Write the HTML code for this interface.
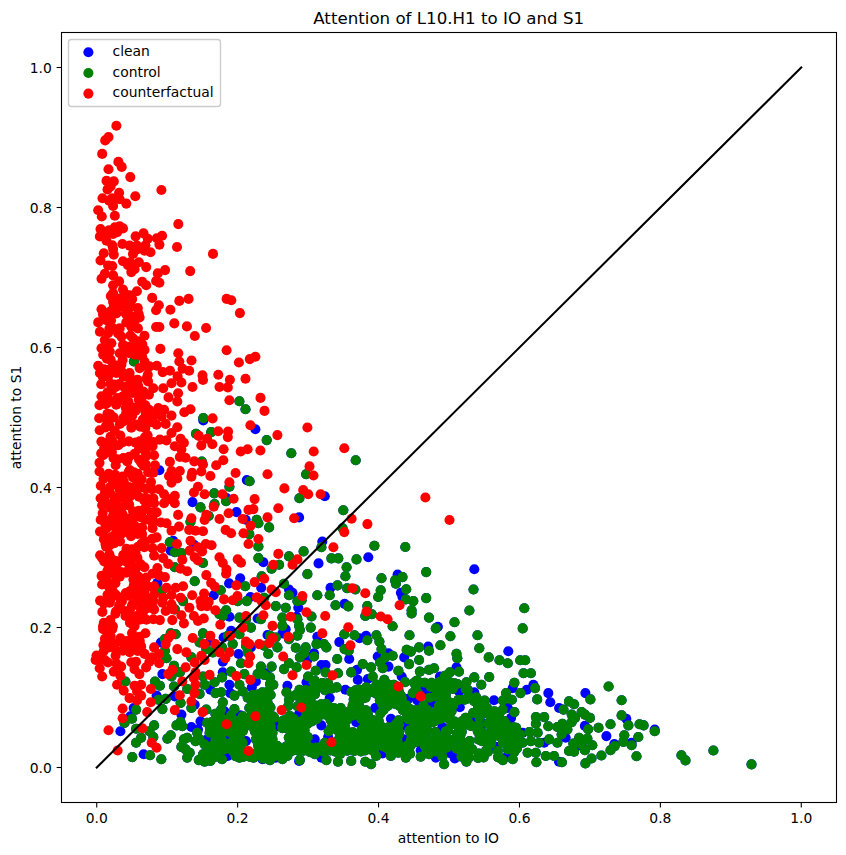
<!DOCTYPE html>
<html lang="en"><head><meta charset="utf-8"><title>Attention of L10.H1 to IO and S1</title>
<style>html,body{margin:0;padding:0;background:#fff}svg{display:block}text{font-family:"DejaVu Sans", "Liberation Sans", sans-serif;fill:#000}</style></head>
<body>
<svg width="846" height="855" viewBox="0 0 846 855">
<rect width="846" height="855" fill="#fff"/>
<clipPath id="ax"><rect x="61.5" y="32.5" width="775" height="770"/></clipPath>
<g clip-path="url(#ax)">
<g fill="#0000ff"><circle cx="133.9" cy="361.5" r="5.05"/><circle cx="239.4" cy="401.2" r="5.05"/><circle cx="245.5" cy="409.3" r="5.05"/><circle cx="203.3" cy="418.1" r="5.05"/><circle cx="196.0" cy="433.8" r="5.05"/><circle cx="211.2" cy="432.1" r="5.05"/><circle cx="266.7" cy="440.1" r="5.05"/><circle cx="249.6" cy="481.3" r="5.05"/><circle cx="229.4" cy="486.7" r="5.05"/><circle cx="214.2" cy="493.4" r="5.05"/><circle cx="226.1" cy="501.3" r="5.05"/><circle cx="214.5" cy="504.1" r="5.05"/><circle cx="200.5" cy="507.4" r="5.05"/><circle cx="208.7" cy="516.0" r="5.05"/><circle cx="256.7" cy="519.8" r="5.05"/><circle cx="201.8" cy="461.6" r="5.05"/><circle cx="291.3" cy="453.3" r="5.05"/><circle cx="355.7" cy="460.3" r="5.05"/><circle cx="306.1" cy="474.3" r="5.05"/><circle cx="299.4" cy="498.3" r="5.05"/><circle cx="343.3" cy="510.2" r="5.05"/><circle cx="190.5" cy="521.7" r="5.05"/><circle cx="258.4" cy="523.3" r="5.05"/><circle cx="269.1" cy="527.4" r="5.05"/><circle cx="249.3" cy="534.1" r="5.05"/><circle cx="169.9" cy="542.3" r="5.05"/><circle cx="258.4" cy="546.5" r="5.05"/><circle cx="174.8" cy="552.3" r="5.05"/><circle cx="181.4" cy="553.1" r="5.05"/><circle cx="203.0" cy="563.0" r="5.05"/><circle cx="258.4" cy="558.1" r="5.05"/><circle cx="289.0" cy="556.4" r="5.05"/><circle cx="279.1" cy="564.7" r="5.05"/><circle cx="271.6" cy="568.8" r="5.05"/><circle cx="174.8" cy="567.2" r="5.05"/><circle cx="194.7" cy="581.2" r="5.05"/><circle cx="261.7" cy="576.3" r="5.05"/><circle cx="284.0" cy="583.7" r="5.05"/><circle cx="245.2" cy="586.2" r="5.05"/><circle cx="220.7" cy="590.3" r="5.05"/><circle cx="246.8" cy="601.1" r="5.05"/><circle cx="237.7" cy="601.1" r="5.05"/><circle cx="264.2" cy="597.8" r="5.05"/><circle cx="289.0" cy="595.3" r="5.05"/><circle cx="275.8" cy="606.1" r="5.05"/><circle cx="285.7" cy="607.7" r="5.05"/><circle cx="226.1" cy="610.2" r="5.05"/><circle cx="219.5" cy="614.3" r="5.05"/><circle cx="222.8" cy="616.0" r="5.05"/><circle cx="239.4" cy="617.6" r="5.05"/><circle cx="246.0" cy="619.3" r="5.05"/><circle cx="260.9" cy="619.3" r="5.05"/><circle cx="282.4" cy="617.6" r="5.05"/><circle cx="282.4" cy="625.9" r="5.05"/><circle cx="250.9" cy="627.6" r="5.05"/><circle cx="239.4" cy="634.2" r="5.05"/><circle cx="203.0" cy="633.4" r="5.05"/><circle cx="170.7" cy="633.4" r="5.05"/><circle cx="175.7" cy="634.2" r="5.05"/><circle cx="164.9" cy="639.1" r="5.05"/><circle cx="227.8" cy="635.8" r="5.05"/><circle cx="270.0" cy="635.8" r="5.05"/><circle cx="275.8" cy="637.5" r="5.05"/><circle cx="199.6" cy="642.5" r="5.05"/><circle cx="206.3" cy="649.1" r="5.05"/><circle cx="232.7" cy="644.1" r="5.05"/><circle cx="246.0" cy="645.8" r="5.05"/><circle cx="277.4" cy="647.4" r="5.05"/><circle cx="289.0" cy="639.1" r="5.05"/><circle cx="164.9" cy="650.7" r="5.05"/><circle cx="191.4" cy="657.4" r="5.05"/><circle cx="212.9" cy="652.4" r="5.05"/><circle cx="222.0" cy="647.4" r="5.05"/><circle cx="247.6" cy="652.4" r="5.05"/><circle cx="268.3" cy="654.0" r="5.05"/><circle cx="264.2" cy="645.8" r="5.05"/><circle cx="166.5" cy="658.2" r="5.05"/><circle cx="174.8" cy="609.4" r="5.05"/><circle cx="183.1" cy="601.1" r="5.05"/><circle cx="161.6" cy="591.2" r="5.05"/><circle cx="342.6" cy="528.3" r="5.05"/><circle cx="374.4" cy="545.7" r="5.05"/><circle cx="405.3" cy="547.0" r="5.05"/><circle cx="321.4" cy="547.3" r="5.05"/><circle cx="303.6" cy="551.4" r="5.05"/><circle cx="331.4" cy="558.4" r="5.05"/><circle cx="338.3" cy="558.4" r="5.05"/><circle cx="356.5" cy="559.4" r="5.05"/><circle cx="346.6" cy="567.2" r="5.05"/><circle cx="307.4" cy="574.1" r="5.05"/><circle cx="345.4" cy="576.3" r="5.05"/><circle cx="426.2" cy="572.1" r="5.05"/><circle cx="381.5" cy="578.3" r="5.05"/><circle cx="402.5" cy="577.1" r="5.05"/><circle cx="395.1" cy="580.4" r="5.05"/><circle cx="395.9" cy="583.7" r="5.05"/><circle cx="337.5" cy="585.4" r="5.05"/><circle cx="347.1" cy="588.3" r="5.05"/><circle cx="355.4" cy="589.5" r="5.05"/><circle cx="406.2" cy="589.2" r="5.05"/><circle cx="380.7" cy="590.3" r="5.05"/><circle cx="378.2" cy="597.0" r="5.05"/><circle cx="317.3" cy="595.3" r="5.05"/><circle cx="329.7" cy="595.3" r="5.05"/><circle cx="426.2" cy="598.1" r="5.05"/><circle cx="405.8" cy="599.4" r="5.05"/><circle cx="413.3" cy="601.1" r="5.05"/><circle cx="297.4" cy="601.1" r="5.05"/><circle cx="301.6" cy="600.3" r="5.05"/><circle cx="335.5" cy="605.2" r="5.05"/><circle cx="348.3" cy="606.4" r="5.05"/><circle cx="367.3" cy="606.1" r="5.05"/><circle cx="411.6" cy="610.2" r="5.05"/><circle cx="411.6" cy="613.5" r="5.05"/><circle cx="371.9" cy="614.3" r="5.05"/><circle cx="365.3" cy="616.0" r="5.05"/><circle cx="311.5" cy="616.5" r="5.05"/><circle cx="429.0" cy="617.6" r="5.05"/><circle cx="297.4" cy="619.3" r="5.05"/><circle cx="392.6" cy="626.2" r="5.05"/><circle cx="299.1" cy="625.9" r="5.05"/><circle cx="310.7" cy="627.6" r="5.05"/><circle cx="299.9" cy="630.0" r="5.05"/><circle cx="297.4" cy="635.8" r="5.05"/><circle cx="344.3" cy="634.2" r="5.05"/><circle cx="354.5" cy="635.3" r="5.05"/><circle cx="376.4" cy="635.3" r="5.05"/><circle cx="409.5" cy="635.3" r="5.05"/><circle cx="367.3" cy="640.3" r="5.05"/><circle cx="379.4" cy="641.6" r="5.05"/><circle cx="316.5" cy="644.1" r="5.05"/><circle cx="323.9" cy="644.1" r="5.05"/><circle cx="326.4" cy="647.4" r="5.05"/><circle cx="295.8" cy="647.8" r="5.05"/><circle cx="305.7" cy="647.4" r="5.05"/><circle cx="344.6" cy="649.1" r="5.05"/><circle cx="348.7" cy="650.7" r="5.05"/><circle cx="381.5" cy="649.1" r="5.05"/><circle cx="419.1" cy="647.4" r="5.05"/><circle cx="406.7" cy="649.9" r="5.05"/><circle cx="410.8" cy="651.6" r="5.05"/><circle cx="304.1" cy="653.2" r="5.05"/><circle cx="314.0" cy="656.5" r="5.05"/><circle cx="392.6" cy="655.7" r="5.05"/><circle cx="385.2" cy="657.4" r="5.05"/><circle cx="429.0" cy="650.7" r="5.05"/><circle cx="337.2" cy="659.0" r="5.05"/><circle cx="299.9" cy="657.4" r="5.05"/><circle cx="419.1" cy="660.0" r="5.05"/><circle cx="473.5" cy="589.5" r="5.05"/><circle cx="469.4" cy="610.5" r="5.05"/><circle cx="524.3" cy="608.2" r="5.05"/><circle cx="454.5" cy="622.3" r="5.05"/><circle cx="522.7" cy="628.4" r="5.05"/><circle cx="435.8" cy="628.4" r="5.05"/><circle cx="450.4" cy="636.3" r="5.05"/><circle cx="477.5" cy="635.3" r="5.05"/><circle cx="440.4" cy="645.3" r="5.05"/><circle cx="479.3" cy="648.3" r="5.05"/><circle cx="456.5" cy="653.7" r="5.05"/><circle cx="488.7" cy="657.4" r="5.05"/><circle cx="457.3" cy="658.2" r="5.05"/><circle cx="499.5" cy="660.3" r="5.05"/><circle cx="520.2" cy="660.3" r="5.05"/><circle cx="525.2" cy="660.3" r="5.05"/><circle cx="174.0" cy="665.8" r="5.05"/><circle cx="241.0" cy="663.3" r="5.05"/><circle cx="260.9" cy="666.6" r="5.05"/><circle cx="271.6" cy="666.6" r="5.05"/><circle cx="284.0" cy="669.1" r="5.05"/><circle cx="289.0" cy="663.3" r="5.05"/><circle cx="231.1" cy="671.6" r="5.05"/><circle cx="179.8" cy="672.4" r="5.05"/><circle cx="203.0" cy="676.5" r="5.05"/><circle cx="222.0" cy="677.4" r="5.05"/><circle cx="244.3" cy="674.1" r="5.05"/><circle cx="257.6" cy="674.1" r="5.05"/><circle cx="264.2" cy="674.9" r="5.05"/><circle cx="270.0" cy="677.4" r="5.05"/><circle cx="171.5" cy="676.5" r="5.05"/><circle cx="155.0" cy="681.5" r="5.05"/><circle cx="159.9" cy="685.7" r="5.05"/><circle cx="174.0" cy="686.5" r="5.05"/><circle cx="187.2" cy="689.0" r="5.05"/><circle cx="204.6" cy="684.8" r="5.05"/><circle cx="214.5" cy="682.3" r="5.05"/><circle cx="239.4" cy="684.8" r="5.05"/><circle cx="270.0" cy="684.0" r="5.05"/><circle cx="273.3" cy="684.8" r="5.05"/><circle cx="199.6" cy="693.9" r="5.05"/><circle cx="215.4" cy="693.1" r="5.05"/><circle cx="221.2" cy="692.3" r="5.05"/><circle cx="234.4" cy="695.6" r="5.05"/><circle cx="242.7" cy="691.4" r="5.05"/><circle cx="252.6" cy="694.8" r="5.05"/><circle cx="262.5" cy="692.3" r="5.05"/><circle cx="286.5" cy="692.3" r="5.05"/><circle cx="158.3" cy="699.7" r="5.05"/><circle cx="165.7" cy="698.9" r="5.05"/><circle cx="289.0" cy="699.7" r="5.05"/><circle cx="180.6" cy="703.0" r="5.05"/><circle cx="222.8" cy="702.2" r="5.05"/><circle cx="255.9" cy="701.4" r="5.05"/><circle cx="265.8" cy="703.0" r="5.05"/><circle cx="191.4" cy="708.0" r="5.05"/><circle cx="162.4" cy="709.1" r="5.05"/><circle cx="234.4" cy="709.1" r="5.05"/><circle cx="206.3" cy="709.6" r="5.05"/><circle cx="221.2" cy="709.6" r="5.05"/><circle cx="249.3" cy="708.0" r="5.05"/><circle cx="259.2" cy="709.6" r="5.05"/><circle cx="269.1" cy="709.6" r="5.05"/><circle cx="215.4" cy="713.8" r="5.05"/><circle cx="220.3" cy="716.3" r="5.05"/><circle cx="242.7" cy="716.3" r="5.05"/><circle cx="247.6" cy="717.9" r="5.05"/><circle cx="265.8" cy="716.3" r="5.05"/><circle cx="274.1" cy="717.9" r="5.05"/><circle cx="285.7" cy="719.6" r="5.05"/><circle cx="207.1" cy="722.9" r="5.05"/><circle cx="180.6" cy="722.1" r="5.05"/><circle cx="176.5" cy="725.4" r="5.05"/><circle cx="182.3" cy="726.2" r="5.05"/><circle cx="154.1" cy="725.4" r="5.05"/><circle cx="214.5" cy="726.2" r="5.05"/><circle cx="237.7" cy="724.5" r="5.05"/><circle cx="244.3" cy="726.2" r="5.05"/><circle cx="252.6" cy="726.2" r="5.05"/><circle cx="262.5" cy="724.5" r="5.05"/><circle cx="270.8" cy="726.2" r="5.05"/><circle cx="282.4" cy="726.2" r="5.05"/><circle cx="289.0" cy="729.5" r="5.05"/><circle cx="197.2" cy="732.8" r="5.05"/><circle cx="170.7" cy="735.3" r="5.05"/><circle cx="167.4" cy="738.6" r="5.05"/><circle cx="209.6" cy="732.8" r="5.05"/><circle cx="219.5" cy="732.8" r="5.05"/><circle cx="233.6" cy="732.8" r="5.05"/><circle cx="242.7" cy="731.2" r="5.05"/><circle cx="255.9" cy="732.8" r="5.05"/><circle cx="265.8" cy="732.8" r="5.05"/><circle cx="272.5" cy="732.8" r="5.05"/><circle cx="153.3" cy="737.0" r="5.05"/><circle cx="187.2" cy="737.8" r="5.05"/><circle cx="183.9" cy="739.4" r="5.05"/><circle cx="195.5" cy="741.1" r="5.05"/><circle cx="199.6" cy="739.4" r="5.05"/><circle cx="204.6" cy="744.4" r="5.05"/><circle cx="215.4" cy="739.4" r="5.05"/><circle cx="221.2" cy="737.8" r="5.05"/><circle cx="213.7" cy="745.2" r="5.05"/><circle cx="226.1" cy="746.1" r="5.05"/><circle cx="232.7" cy="742.7" r="5.05"/><circle cx="240.2" cy="739.4" r="5.05"/><circle cx="242.7" cy="742.7" r="5.05"/><circle cx="255.9" cy="739.4" r="5.05"/><circle cx="264.2" cy="741.1" r="5.05"/><circle cx="272.5" cy="739.4" r="5.05"/><circle cx="181.4" cy="746.9" r="5.05"/><circle cx="185.6" cy="749.4" r="5.05"/><circle cx="189.7" cy="752.7" r="5.05"/><circle cx="224.5" cy="749.4" r="5.05"/><circle cx="232.7" cy="751.0" r="5.05"/><circle cx="239.4" cy="752.7" r="5.05"/><circle cx="259.2" cy="747.7" r="5.05"/><circle cx="265.8" cy="749.4" r="5.05"/><circle cx="272.5" cy="751.0" r="5.05"/><circle cx="280.7" cy="749.4" r="5.05"/><circle cx="287.4" cy="751.0" r="5.05"/><circle cx="203.0" cy="754.3" r="5.05"/><circle cx="207.9" cy="754.3" r="5.05"/><circle cx="187.2" cy="757.6" r="5.05"/><circle cx="198.8" cy="760.1" r="5.05"/><circle cx="204.6" cy="761.8" r="5.05"/><circle cx="210.4" cy="760.9" r="5.05"/><circle cx="222.0" cy="759.3" r="5.05"/><circle cx="239.4" cy="757.6" r="5.05"/><circle cx="253.4" cy="757.6" r="5.05"/><circle cx="264.2" cy="756.0" r="5.05"/><circle cx="270.0" cy="760.1" r="5.05"/><circle cx="282.4" cy="759.3" r="5.05"/><circle cx="287.4" cy="756.0" r="5.05"/><circle cx="161.3" cy="759.3" r="5.05"/><circle cx="150.0" cy="755.2" r="5.05"/><circle cx="259.2" cy="752.7" r="5.05"/><circle cx="275.8" cy="756.0" r="5.05"/><circle cx="313.6" cy="682.2" r="5.05"/><circle cx="322.4" cy="683.1" r="5.05"/><circle cx="328.0" cy="683.1" r="5.05"/><circle cx="376.5" cy="684.5" r="5.05"/><circle cx="382.6" cy="684.7" r="5.05"/><circle cx="387.6" cy="684.3" r="5.05"/><circle cx="393.9" cy="684.8" r="5.05"/><circle cx="405.0" cy="682.1" r="5.05"/><circle cx="414.2" cy="682.9" r="5.05"/><circle cx="419.0" cy="682.4" r="5.05"/><circle cx="424.7" cy="682.8" r="5.05"/><circle cx="299.5" cy="689.9" r="5.05"/><circle cx="306.0" cy="690.0" r="5.05"/><circle cx="312.7" cy="690.3" r="5.05"/><circle cx="318.2" cy="687.2" r="5.05"/><circle cx="325.0" cy="690.2" r="5.05"/><circle cx="331.3" cy="688.7" r="5.05"/><circle cx="336.7" cy="687.4" r="5.05"/><circle cx="355.6" cy="690.3" r="5.05"/><circle cx="358.9" cy="689.6" r="5.05"/><circle cx="366.2" cy="687.2" r="5.05"/><circle cx="371.9" cy="689.4" r="5.05"/><circle cx="380.1" cy="686.8" r="5.05"/><circle cx="385.3" cy="686.8" r="5.05"/><circle cx="391.8" cy="687.9" r="5.05"/><circle cx="398.5" cy="690.2" r="5.05"/><circle cx="415.9" cy="686.8" r="5.05"/><circle cx="295.4" cy="695.4" r="5.05"/><circle cx="303.7" cy="693.3" r="5.05"/><circle cx="308.2" cy="693.8" r="5.05"/><circle cx="315.0" cy="694.1" r="5.05"/><circle cx="351.4" cy="692.0" r="5.05"/><circle cx="357.0" cy="694.1" r="5.05"/><circle cx="361.7" cy="694.2" r="5.05"/><circle cx="370.1" cy="692.2" r="5.05"/><circle cx="376.2" cy="693.6" r="5.05"/><circle cx="382.5" cy="693.2" r="5.05"/><circle cx="388.7" cy="694.6" r="5.05"/><circle cx="392.4" cy="692.2" r="5.05"/><circle cx="400.9" cy="695.5" r="5.05"/><circle cx="412.8" cy="693.1" r="5.05"/><circle cx="418.1" cy="693.1" r="5.05"/><circle cx="300.2" cy="697.4" r="5.05"/><circle cx="305.6" cy="699.9" r="5.05"/><circle cx="310.7" cy="698.1" r="5.05"/><circle cx="353.7" cy="699.6" r="5.05"/><circle cx="361.8" cy="698.9" r="5.05"/><circle cx="365.5" cy="697.7" r="5.05"/><circle cx="379.9" cy="700.3" r="5.05"/><circle cx="383.8" cy="698.3" r="5.05"/><circle cx="392.1" cy="699.6" r="5.05"/><circle cx="398.3" cy="698.5" r="5.05"/><circle cx="401.9" cy="698.3" r="5.05"/><circle cx="429.3" cy="697.8" r="5.05"/><circle cx="288.2" cy="706.0" r="5.05"/><circle cx="297.5" cy="706.2" r="5.05"/><circle cx="302.0" cy="706.0" r="5.05"/><circle cx="309.9" cy="703.4" r="5.05"/><circle cx="315.4" cy="705.6" r="5.05"/><circle cx="321.2" cy="704.4" r="5.05"/><circle cx="326.0" cy="703.8" r="5.05"/><circle cx="352.7" cy="705.1" r="5.05"/><circle cx="358.9" cy="705.8" r="5.05"/><circle cx="382.4" cy="704.5" r="5.05"/><circle cx="387.7" cy="706.0" r="5.05"/><circle cx="394.5" cy="703.8" r="5.05"/><circle cx="399.3" cy="705.7" r="5.05"/><circle cx="406.3" cy="705.4" r="5.05"/><circle cx="423.5" cy="705.4" r="5.05"/><circle cx="305.8" cy="711.0" r="5.05"/><circle cx="309.8" cy="708.8" r="5.05"/><circle cx="316.7" cy="709.8" r="5.05"/><circle cx="323.4" cy="709.6" r="5.05"/><circle cx="330.8" cy="707.9" r="5.05"/><circle cx="334.3" cy="708.3" r="5.05"/><circle cx="340.7" cy="708.1" r="5.05"/><circle cx="349.9" cy="711.0" r="5.05"/><circle cx="352.8" cy="709.7" r="5.05"/><circle cx="359.7" cy="709.0" r="5.05"/><circle cx="366.0" cy="710.2" r="5.05"/><circle cx="383.5" cy="709.9" r="5.05"/><circle cx="402.8" cy="710.1" r="5.05"/><circle cx="410.4" cy="709.2" r="5.05"/><circle cx="416.6" cy="710.1" r="5.05"/><circle cx="421.4" cy="709.2" r="5.05"/><circle cx="427.8" cy="710.4" r="5.05"/><circle cx="289.7" cy="715.7" r="5.05"/><circle cx="306.8" cy="714.7" r="5.05"/><circle cx="314.2" cy="716.4" r="5.05"/><circle cx="322.2" cy="714.5" r="5.05"/><circle cx="328.2" cy="716.0" r="5.05"/><circle cx="332.0" cy="714.9" r="5.05"/><circle cx="337.6" cy="716.1" r="5.05"/><circle cx="345.7" cy="716.4" r="5.05"/><circle cx="352.3" cy="715.6" r="5.05"/><circle cx="358.2" cy="715.2" r="5.05"/><circle cx="362.0" cy="715.3" r="5.05"/><circle cx="367.8" cy="713.7" r="5.05"/><circle cx="380.4" cy="713.5" r="5.05"/><circle cx="407.0" cy="716.2" r="5.05"/><circle cx="414.1" cy="715.3" r="5.05"/><circle cx="419.7" cy="713.3" r="5.05"/><circle cx="425.7" cy="715.0" r="5.05"/><circle cx="293.8" cy="718.9" r="5.05"/><circle cx="300.1" cy="721.9" r="5.05"/><circle cx="303.7" cy="719.6" r="5.05"/><circle cx="311.7" cy="721.5" r="5.05"/><circle cx="316.6" cy="719.1" r="5.05"/><circle cx="330.7" cy="719.9" r="5.05"/><circle cx="335.4" cy="719.9" r="5.05"/><circle cx="341.5" cy="720.0" r="5.05"/><circle cx="346.7" cy="720.3" r="5.05"/><circle cx="361.3" cy="719.0" r="5.05"/><circle cx="367.2" cy="721.2" r="5.05"/><circle cx="373.3" cy="720.3" r="5.05"/><circle cx="378.7" cy="720.8" r="5.05"/><circle cx="398.7" cy="720.3" r="5.05"/><circle cx="408.3" cy="719.4" r="5.05"/><circle cx="414.4" cy="720.6" r="5.05"/><circle cx="421.0" cy="719.3" r="5.05"/><circle cx="428.5" cy="721.9" r="5.05"/><circle cx="295.8" cy="726.9" r="5.05"/><circle cx="302.6" cy="724.7" r="5.05"/><circle cx="307.3" cy="723.9" r="5.05"/><circle cx="331.6" cy="727.4" r="5.05"/><circle cx="338.9" cy="725.9" r="5.05"/><circle cx="345.0" cy="726.8" r="5.05"/><circle cx="364.8" cy="725.2" r="5.05"/><circle cx="370.4" cy="727.3" r="5.05"/><circle cx="375.6" cy="724.6" r="5.05"/><circle cx="380.9" cy="726.4" r="5.05"/><circle cx="388.6" cy="727.3" r="5.05"/><circle cx="395.4" cy="724.6" r="5.05"/><circle cx="399.1" cy="724.7" r="5.05"/><circle cx="413.8" cy="727.0" r="5.05"/><circle cx="417.7" cy="726.9" r="5.05"/><circle cx="424.0" cy="725.3" r="5.05"/><circle cx="293.9" cy="729.4" r="5.05"/><circle cx="297.7" cy="732.1" r="5.05"/><circle cx="304.5" cy="730.4" r="5.05"/><circle cx="328.7" cy="731.2" r="5.05"/><circle cx="337.6" cy="730.5" r="5.05"/><circle cx="342.2" cy="729.5" r="5.05"/><circle cx="347.3" cy="731.5" r="5.05"/><circle cx="352.9" cy="732.3" r="5.05"/><circle cx="361.9" cy="729.4" r="5.05"/><circle cx="368.1" cy="730.4" r="5.05"/><circle cx="373.7" cy="731.8" r="5.05"/><circle cx="378.0" cy="731.5" r="5.05"/><circle cx="385.5" cy="732.0" r="5.05"/><circle cx="390.2" cy="731.8" r="5.05"/><circle cx="398.8" cy="731.5" r="5.05"/><circle cx="409.4" cy="730.4" r="5.05"/><circle cx="416.3" cy="731.5" r="5.05"/><circle cx="421.9" cy="729.7" r="5.05"/><circle cx="428.3" cy="731.4" r="5.05"/><circle cx="288.8" cy="737.6" r="5.05"/><circle cx="296.7" cy="734.8" r="5.05"/><circle cx="303.8" cy="734.9" r="5.05"/><circle cx="307.8" cy="737.0" r="5.05"/><circle cx="339.9" cy="736.3" r="5.05"/><circle cx="346.0" cy="735.7" r="5.05"/><circle cx="350.4" cy="735.8" r="5.05"/><circle cx="358.7" cy="734.5" r="5.05"/><circle cx="363.5" cy="735.3" r="5.05"/><circle cx="370.6" cy="735.7" r="5.05"/><circle cx="375.1" cy="735.8" r="5.05"/><circle cx="382.0" cy="737.2" r="5.05"/><circle cx="387.4" cy="737.5" r="5.05"/><circle cx="392.7" cy="735.4" r="5.05"/><circle cx="398.8" cy="734.8" r="5.05"/><circle cx="411.3" cy="735.1" r="5.05"/><circle cx="418.3" cy="737.1" r="5.05"/><circle cx="425.9" cy="737.1" r="5.05"/><circle cx="293.4" cy="740.2" r="5.05"/><circle cx="298.8" cy="740.4" r="5.05"/><circle cx="305.4" cy="741.7" r="5.05"/><circle cx="324.8" cy="742.9" r="5.05"/><circle cx="336.1" cy="741.8" r="5.05"/><circle cx="342.5" cy="743.2" r="5.05"/><circle cx="348.8" cy="740.8" r="5.05"/><circle cx="355.6" cy="741.4" r="5.05"/><circle cx="360.8" cy="742.3" r="5.05"/><circle cx="364.7" cy="742.5" r="5.05"/><circle cx="373.2" cy="741.5" r="5.05"/><circle cx="378.9" cy="741.4" r="5.05"/><circle cx="383.8" cy="741.6" r="5.05"/><circle cx="389.3" cy="741.5" r="5.05"/><circle cx="397.7" cy="741.3" r="5.05"/><circle cx="410.8" cy="740.2" r="5.05"/><circle cx="416.6" cy="741.9" r="5.05"/><circle cx="420.0" cy="741.0" r="5.05"/><circle cx="426.8" cy="740.0" r="5.05"/><circle cx="290.1" cy="748.4" r="5.05"/><circle cx="295.5" cy="748.1" r="5.05"/><circle cx="303.0" cy="745.5" r="5.05"/><circle cx="309.7" cy="747.2" r="5.05"/><circle cx="316.0" cy="747.6" r="5.05"/><circle cx="321.5" cy="746.2" r="5.05"/><circle cx="327.9" cy="748.4" r="5.05"/><circle cx="334.2" cy="746.6" r="5.05"/><circle cx="339.9" cy="746.7" r="5.05"/><circle cx="343.7" cy="745.1" r="5.05"/><circle cx="349.7" cy="745.7" r="5.05"/><circle cx="356.1" cy="746.8" r="5.05"/><circle cx="364.2" cy="746.9" r="5.05"/><circle cx="369.3" cy="747.3" r="5.05"/><circle cx="375.0" cy="746.7" r="5.05"/><circle cx="382.8" cy="746.4" r="5.05"/><circle cx="386.8" cy="748.3" r="5.05"/><circle cx="394.9" cy="746.3" r="5.05"/><circle cx="399.7" cy="746.9" r="5.05"/><circle cx="406.7" cy="745.8" r="5.05"/><circle cx="410.6" cy="745.7" r="5.05"/><circle cx="424.6" cy="745.7" r="5.05"/><circle cx="292.0" cy="750.9" r="5.05"/><circle cx="298.8" cy="750.9" r="5.05"/><circle cx="303.6" cy="750.7" r="5.05"/><circle cx="310.2" cy="752.1" r="5.05"/><circle cx="316.0" cy="750.4" r="5.05"/><circle cx="323.5" cy="751.8" r="5.05"/><circle cx="330.5" cy="750.5" r="5.05"/><circle cx="335.6" cy="751.7" r="5.05"/><circle cx="340.3" cy="753.8" r="5.05"/><circle cx="347.1" cy="750.6" r="5.05"/><circle cx="354.2" cy="750.9" r="5.05"/><circle cx="360.9" cy="751.5" r="5.05"/><circle cx="365.2" cy="750.5" r="5.05"/><circle cx="373.5" cy="751.3" r="5.05"/><circle cx="390.1" cy="751.2" r="5.05"/><circle cx="398.3" cy="752.6" r="5.05"/><circle cx="402.7" cy="750.6" r="5.05"/><circle cx="410.1" cy="753.8" r="5.05"/><circle cx="426.6" cy="750.4" r="5.05"/><circle cx="296.6" cy="667.4" r="5.05"/><circle cx="362.8" cy="664.1" r="5.05"/><circle cx="371.1" cy="667.4" r="5.05"/><circle cx="380.2" cy="662.5" r="5.05"/><circle cx="382.7" cy="668.3" r="5.05"/><circle cx="409.1" cy="664.1" r="5.05"/><circle cx="419.9" cy="671.6" r="5.05"/><circle cx="429.0" cy="669.9" r="5.05"/><circle cx="398.4" cy="670.8" r="5.05"/><circle cx="315.7" cy="670.8" r="5.05"/><circle cx="325.6" cy="672.4" r="5.05"/><circle cx="351.2" cy="672.4" r="5.05"/><circle cx="308.2" cy="676.5" r="5.05"/><circle cx="338.0" cy="673.2" r="5.05"/><circle cx="372.7" cy="676.5" r="5.05"/><circle cx="384.3" cy="679.9" r="5.05"/><circle cx="314.8" cy="680.7" r="5.05"/><circle cx="416.6" cy="680.7" r="5.05"/><circle cx="299.9" cy="760.1" r="5.05"/><circle cx="326.4" cy="760.1" r="5.05"/><circle cx="338.0" cy="761.8" r="5.05"/><circle cx="351.2" cy="760.9" r="5.05"/><circle cx="365.3" cy="761.8" r="5.05"/><circle cx="371.1" cy="764.3" r="5.05"/><circle cx="314.8" cy="754.3" r="5.05"/><circle cx="390.9" cy="756.0" r="5.05"/><circle cx="405.8" cy="757.6" r="5.05"/><circle cx="420.7" cy="756.8" r="5.05"/><circle cx="429.0" cy="754.3" r="5.05"/><circle cx="376.1" cy="756.0" r="5.05"/><circle cx="507.8" cy="663.3" r="5.05"/><circle cx="434.1" cy="668.3" r="5.05"/><circle cx="459.0" cy="671.6" r="5.05"/><circle cx="449.9" cy="672.4" r="5.05"/><circle cx="444.9" cy="675.7" r="5.05"/><circle cx="523.5" cy="673.2" r="5.05"/><circle cx="530.9" cy="673.2" r="5.05"/><circle cx="474.3" cy="677.4" r="5.05"/><circle cx="489.2" cy="677.0" r="5.05"/><circle cx="439.9" cy="681.5" r="5.05"/><circle cx="449.9" cy="682.3" r="5.05"/><circle cx="466.4" cy="682.3" r="5.05"/><circle cx="514.4" cy="682.8" r="5.05"/><circle cx="481.3" cy="684.8" r="5.05"/><circle cx="432.5" cy="686.5" r="5.05"/><circle cx="457.3" cy="684.0" r="5.05"/><circle cx="446.5" cy="689.0" r="5.05"/><circle cx="465.6" cy="689.0" r="5.05"/><circle cx="535.1" cy="688.1" r="5.05"/><circle cx="506.1" cy="693.1" r="5.05"/><circle cx="520.5" cy="693.1" r="5.05"/><circle cx="435.0" cy="696.4" r="5.05"/><circle cx="446.5" cy="699.7" r="5.05"/><circle cx="466.4" cy="698.9" r="5.05"/><circle cx="476.3" cy="697.2" r="5.05"/><circle cx="484.6" cy="700.5" r="5.05"/><circle cx="502.8" cy="700.5" r="5.05"/><circle cx="511.9" cy="699.7" r="5.05"/><circle cx="537.2" cy="699.4" r="5.05"/><circle cx="569.0" cy="701.4" r="5.05"/><circle cx="441.6" cy="703.0" r="5.05"/><circle cx="453.2" cy="705.5" r="5.05"/><circle cx="478.0" cy="705.5" r="5.05"/><circle cx="487.1" cy="708.0" r="5.05"/><circle cx="438.3" cy="709.6" r="5.05"/><circle cx="451.5" cy="711.3" r="5.05"/><circle cx="473.0" cy="713.0" r="5.05"/><circle cx="486.3" cy="713.0" r="5.05"/><circle cx="494.5" cy="711.3" r="5.05"/><circle cx="502.8" cy="709.6" r="5.05"/><circle cx="514.4" cy="712.1" r="5.05"/><circle cx="563.5" cy="709.6" r="5.05"/><circle cx="433.3" cy="714.6" r="5.05"/><circle cx="444.1" cy="717.1" r="5.05"/><circle cx="465.6" cy="717.9" r="5.05"/><circle cx="479.6" cy="717.9" r="5.05"/><circle cx="490.4" cy="716.3" r="5.05"/><circle cx="535.9" cy="717.1" r="5.05"/><circle cx="544.2" cy="717.1" r="5.05"/><circle cx="432.5" cy="722.1" r="5.05"/><circle cx="453.2" cy="722.1" r="5.05"/><circle cx="462.3" cy="725.4" r="5.05"/><circle cx="475.5" cy="726.2" r="5.05"/><circle cx="487.9" cy="723.7" r="5.05"/><circle cx="497.8" cy="724.5" r="5.05"/><circle cx="507.0" cy="726.2" r="5.05"/><circle cx="516.1" cy="727.8" r="5.05"/><circle cx="535.9" cy="723.7" r="5.05"/><circle cx="548.3" cy="726.2" r="5.05"/><circle cx="562.4" cy="723.7" r="5.05"/><circle cx="557.4" cy="727.0" r="5.05"/><circle cx="445.7" cy="731.2" r="5.05"/><circle cx="436.6" cy="734.5" r="5.05"/><circle cx="460.6" cy="734.5" r="5.05"/><circle cx="479.6" cy="734.5" r="5.05"/><circle cx="490.4" cy="732.8" r="5.05"/><circle cx="499.5" cy="736.1" r="5.05"/><circle cx="509.4" cy="732.8" r="5.05"/><circle cx="520.2" cy="734.5" r="5.05"/><circle cx="529.3" cy="732.0" r="5.05"/><circle cx="537.6" cy="732.8" r="5.05"/><circle cx="549.1" cy="739.4" r="5.05"/><circle cx="557.4" cy="742.7" r="5.05"/><circle cx="561.6" cy="734.5" r="5.05"/><circle cx="567.4" cy="729.5" r="5.05"/><circle cx="451.5" cy="741.1" r="5.05"/><circle cx="433.3" cy="741.1" r="5.05"/><circle cx="440.8" cy="742.7" r="5.05"/><circle cx="469.7" cy="741.1" r="5.05"/><circle cx="482.1" cy="741.1" r="5.05"/><circle cx="491.2" cy="743.6" r="5.05"/><circle cx="502.8" cy="742.7" r="5.05"/><circle cx="512.7" cy="741.1" r="5.05"/><circle cx="522.7" cy="742.7" r="5.05"/><circle cx="530.9" cy="741.1" r="5.05"/><circle cx="539.2" cy="742.7" r="5.05"/><circle cx="446.5" cy="747.7" r="5.05"/><circle cx="435.0" cy="749.4" r="5.05"/><circle cx="459.8" cy="747.7" r="5.05"/><circle cx="471.4" cy="749.4" r="5.05"/><circle cx="478.8" cy="753.5" r="5.05"/><circle cx="487.9" cy="751.8" r="5.05"/><circle cx="497.8" cy="751.0" r="5.05"/><circle cx="507.8" cy="749.4" r="5.05"/><circle cx="516.9" cy="748.5" r="5.05"/><circle cx="527.6" cy="752.7" r="5.05"/><circle cx="535.9" cy="752.7" r="5.05"/><circle cx="545.8" cy="756.0" r="5.05"/><circle cx="554.1" cy="756.0" r="5.05"/><circle cx="569.0" cy="751.0" r="5.05"/><circle cx="442.4" cy="756.8" r="5.05"/><circle cx="462.3" cy="755.2" r="5.05"/><circle cx="499.5" cy="757.6" r="5.05"/><circle cx="512.7" cy="759.3" r="5.05"/><circle cx="502.8" cy="760.1" r="5.05"/><circle cx="466.4" cy="761.8" r="5.05"/><circle cx="444.1" cy="764.3" r="5.05"/><circle cx="536.4" cy="762.3" r="5.05"/><circle cx="561.9" cy="762.3" r="5.05"/><circle cx="608.6" cy="686.5" r="5.05"/><circle cx="590.4" cy="699.4" r="5.05"/><circle cx="621.6" cy="700.2" r="5.05"/><circle cx="574.1" cy="704.3" r="5.05"/><circle cx="581.6" cy="712.1" r="5.05"/><circle cx="584.9" cy="714.6" r="5.05"/><circle cx="571.7" cy="714.6" r="5.05"/><circle cx="589.9" cy="717.9" r="5.05"/><circle cx="575.0" cy="717.9" r="5.05"/><circle cx="571.7" cy="722.1" r="5.05"/><circle cx="621.6" cy="715.4" r="5.05"/><circle cx="610.5" cy="724.2" r="5.05"/><circle cx="628.4" cy="725.4" r="5.05"/><circle cx="639.5" cy="724.2" r="5.05"/><circle cx="643.6" cy="725.4" r="5.05"/><circle cx="598.5" cy="727.8" r="5.05"/><circle cx="588.2" cy="729.2" r="5.05"/><circle cx="654.7" cy="731.2" r="5.05"/><circle cx="624.3" cy="735.3" r="5.05"/><circle cx="638.3" cy="737.0" r="5.05"/><circle cx="579.1" cy="737.8" r="5.05"/><circle cx="587.4" cy="738.6" r="5.05"/><circle cx="623.3" cy="741.9" r="5.05"/><circle cx="631.6" cy="745.2" r="5.05"/><circle cx="573.3" cy="743.6" r="5.05"/><circle cx="581.6" cy="744.4" r="5.05"/><circle cx="592.3" cy="745.2" r="5.05"/><circle cx="614.7" cy="746.1" r="5.05"/><circle cx="610.5" cy="750.2" r="5.05"/><circle cx="584.9" cy="750.2" r="5.05"/><circle cx="574.1" cy="751.8" r="5.05"/><circle cx="601.4" cy="755.5" r="5.05"/><circle cx="636.5" cy="756.3" r="5.05"/><circle cx="591.5" cy="758.5" r="5.05"/><circle cx="585.4" cy="763.4" r="5.05"/><circle cx="681.4" cy="755.2" r="5.05"/><circle cx="685.5" cy="760.4" r="5.05"/><circle cx="713.4" cy="750.5" r="5.05"/><circle cx="751.5" cy="764.4" r="5.05"/><circle cx="125.4" cy="681.5" r="5.05"/><circle cx="136.1" cy="709.6" r="5.05"/><circle cx="132.0" cy="718.7" r="5.05"/><circle cx="124.5" cy="722.9" r="5.05"/><circle cx="136.1" cy="728.7" r="5.05"/><circle cx="141.1" cy="737.8" r="5.05"/><circle cx="136.1" cy="742.7" r="5.05"/><circle cx="132.3" cy="757.1" r="5.05"/><circle cx="149.4" cy="731.2" r="5.05"/><circle cx="268.5" cy="691.3" r="5.05"/><circle cx="247.7" cy="697.8" r="5.05"/><circle cx="257.1" cy="694.6" r="5.05"/><circle cx="263.7" cy="695.5" r="5.05"/><circle cx="270.6" cy="695.0" r="5.05"/><circle cx="252.9" cy="702.6" r="5.05"/><circle cx="261.9" cy="700.7" r="5.05"/><circle cx="267.5" cy="702.4" r="5.05"/><circle cx="255.3" cy="709.4" r="5.05"/><circle cx="264.9" cy="709.5" r="5.05"/><circle cx="270.4" cy="707.4" r="5.05"/><circle cx="218.1" cy="715.5" r="5.05"/><circle cx="231.0" cy="715.2" r="5.05"/><circle cx="252.0" cy="713.9" r="5.05"/><circle cx="259.5" cy="713.2" r="5.05"/><circle cx="267.3" cy="712.9" r="5.05"/><circle cx="273.3" cy="716.6" r="5.05"/><circle cx="212.2" cy="721.7" r="5.05"/><circle cx="219.5" cy="721.3" r="5.05"/><circle cx="227.0" cy="720.4" r="5.05"/><circle cx="237.0" cy="720.7" r="5.05"/><circle cx="241.9" cy="721.4" r="5.05"/><circle cx="248.3" cy="719.5" r="5.05"/><circle cx="255.9" cy="719.9" r="5.05"/><circle cx="262.2" cy="722.9" r="5.05"/><circle cx="268.6" cy="722.2" r="5.05"/><circle cx="282.8" cy="720.9" r="5.05"/><circle cx="210.0" cy="728.7" r="5.05"/><circle cx="216.7" cy="725.5" r="5.05"/><circle cx="225.6" cy="728.4" r="5.05"/><circle cx="231.6" cy="725.1" r="5.05"/><circle cx="237.3" cy="726.6" r="5.05"/><circle cx="246.0" cy="725.9" r="5.05"/><circle cx="254.1" cy="728.5" r="5.05"/><circle cx="261.8" cy="728.7" r="5.05"/><circle cx="265.0" cy="727.4" r="5.05"/><circle cx="282.4" cy="728.2" r="5.05"/><circle cx="287.1" cy="725.2" r="5.05"/><circle cx="215.4" cy="731.4" r="5.05"/><circle cx="219.0" cy="733.3" r="5.05"/><circle cx="228.7" cy="731.9" r="5.05"/><circle cx="234.1" cy="731.3" r="5.05"/><circle cx="240.2" cy="733.2" r="5.05"/><circle cx="254.9" cy="731.5" r="5.05"/><circle cx="265.4" cy="733.4" r="5.05"/><circle cx="270.2" cy="734.0" r="5.05"/><circle cx="218.6" cy="741.1" r="5.05"/><circle cx="232.7" cy="741.1" r="5.05"/><circle cx="238.8" cy="741.1" r="5.05"/><circle cx="261.2" cy="737.3" r="5.05"/><circle cx="266.4" cy="739.9" r="5.05"/><circle cx="212.3" cy="745.7" r="5.05"/><circle cx="222.2" cy="744.9" r="5.05"/><circle cx="226.4" cy="743.5" r="5.05"/><circle cx="234.7" cy="745.9" r="5.05"/><circle cx="240.1" cy="746.2" r="5.05"/><circle cx="258.2" cy="745.6" r="5.05"/><circle cx="265.2" cy="745.6" r="5.05"/><circle cx="269.0" cy="744.4" r="5.05"/><circle cx="277.4" cy="746.1" r="5.05"/><circle cx="286.0" cy="746.6" r="5.05"/><circle cx="208.2" cy="753.1" r="5.05"/><circle cx="217.6" cy="753.0" r="5.05"/><circle cx="233.6" cy="751.2" r="5.05"/><circle cx="238.2" cy="749.6" r="5.05"/><circle cx="246.4" cy="752.0" r="5.05"/><circle cx="253.2" cy="753.8" r="5.05"/><circle cx="258.7" cy="750.5" r="5.05"/><circle cx="268.1" cy="753.0" r="5.05"/><circle cx="274.1" cy="749.8" r="5.05"/><circle cx="280.8" cy="753.1" r="5.05"/><circle cx="215.6" cy="756.6" r="5.05"/><circle cx="235.6" cy="756.3" r="5.05"/><circle cx="243.6" cy="756.8" r="5.05"/><circle cx="250.1" cy="757.0" r="5.05"/><circle cx="255.2" cy="756.6" r="5.05"/><circle cx="263.5" cy="758.8" r="5.05"/><circle cx="269.4" cy="758.7" r="5.05"/><circle cx="284.3" cy="756.5" r="5.05"/><circle cx="431.6" cy="682.8" r="5.05"/><circle cx="438.7" cy="684.5" r="5.05"/><circle cx="447.8" cy="682.8" r="5.05"/><circle cx="454.5" cy="683.4" r="5.05"/><circle cx="430.8" cy="686.9" r="5.05"/><circle cx="436.7" cy="690.3" r="5.05"/><circle cx="446.0" cy="688.7" r="5.05"/><circle cx="452.8" cy="688.9" r="5.05"/><circle cx="467.7" cy="689.9" r="5.05"/><circle cx="442.5" cy="696.5" r="5.05"/><circle cx="445.8" cy="694.5" r="5.05"/><circle cx="468.6" cy="696.1" r="5.05"/><circle cx="445.9" cy="701.4" r="5.05"/><circle cx="450.8" cy="702.7" r="5.05"/><circle cx="458.5" cy="699.9" r="5.05"/><circle cx="464.6" cy="699.7" r="5.05"/><circle cx="474.2" cy="701.2" r="5.05"/><circle cx="480.7" cy="702.6" r="5.05"/><circle cx="438.8" cy="706.0" r="5.05"/><circle cx="447.8" cy="709.2" r="5.05"/><circle cx="478.2" cy="708.3" r="5.05"/><circle cx="485.1" cy="708.7" r="5.05"/><circle cx="435.5" cy="712.4" r="5.05"/><circle cx="443.4" cy="712.0" r="5.05"/><circle cx="449.4" cy="715.6" r="5.05"/><circle cx="479.1" cy="713.0" r="5.05"/><circle cx="488.7" cy="713.9" r="5.05"/><circle cx="493.9" cy="714.1" r="5.05"/><circle cx="499.2" cy="714.3" r="5.05"/><circle cx="434.4" cy="721.5" r="5.05"/><circle cx="440.0" cy="719.2" r="5.05"/><circle cx="448.0" cy="718.3" r="5.05"/><circle cx="454.5" cy="721.5" r="5.05"/><circle cx="462.3" cy="721.1" r="5.05"/><circle cx="468.1" cy="721.3" r="5.05"/><circle cx="490.8" cy="720.1" r="5.05"/><circle cx="496.5" cy="719.9" r="5.05"/><circle cx="504.1" cy="721.0" r="5.05"/><circle cx="451.4" cy="724.4" r="5.05"/><circle cx="456.7" cy="725.3" r="5.05"/><circle cx="465.5" cy="724.5" r="5.05"/><circle cx="470.9" cy="725.9" r="5.05"/><circle cx="478.8" cy="725.6" r="5.05"/><circle cx="494.4" cy="724.7" r="5.05"/><circle cx="499.8" cy="727.4" r="5.05"/><circle cx="506.3" cy="724.2" r="5.05"/><circle cx="513.5" cy="727.3" r="5.05"/><circle cx="435.4" cy="732.1" r="5.05"/><circle cx="448.0" cy="730.5" r="5.05"/><circle cx="456.9" cy="733.8" r="5.05"/><circle cx="461.8" cy="731.5" r="5.05"/><circle cx="477.8" cy="731.5" r="5.05"/><circle cx="482.5" cy="732.5" r="5.05"/><circle cx="491.7" cy="730.6" r="5.05"/><circle cx="496.7" cy="732.6" r="5.05"/><circle cx="502.7" cy="733.4" r="5.05"/><circle cx="511.0" cy="733.4" r="5.05"/><circle cx="438.8" cy="737.2" r="5.05"/><circle cx="445.9" cy="739.2" r="5.05"/><circle cx="449.2" cy="739.9" r="5.05"/><circle cx="459.8" cy="738.3" r="5.05"/><circle cx="479.0" cy="739.7" r="5.05"/><circle cx="488.3" cy="736.5" r="5.05"/><circle cx="493.4" cy="736.5" r="5.05"/><circle cx="507.9" cy="736.7" r="5.05"/><circle cx="516.1" cy="737.1" r="5.05"/><circle cx="432.7" cy="743.9" r="5.05"/><circle cx="442.4" cy="743.0" r="5.05"/><circle cx="446.5" cy="742.9" r="5.05"/><circle cx="453.8" cy="746.3" r="5.05"/><circle cx="463.9" cy="743.2" r="5.05"/><circle cx="467.2" cy="744.3" r="5.05"/><circle cx="488.3" cy="745.3" r="5.05"/><circle cx="511.9" cy="742.8" r="5.05"/><circle cx="519.0" cy="743.2" r="5.05"/><circle cx="430.3" cy="748.5" r="5.05"/><circle cx="436.3" cy="751.8" r="5.05"/><circle cx="443.7" cy="748.8" r="5.05"/><circle cx="456.7" cy="748.8" r="5.05"/><circle cx="465.6" cy="752.1" r="5.05"/><circle cx="472.2" cy="749.4" r="5.05"/><circle cx="486.0" cy="750.9" r="5.05"/><circle cx="507.7" cy="748.9" r="5.05"/><circle cx="514.4" cy="751.6" r="5.05"/><circle cx="461.4" cy="756.6" r="5.05"/><circle cx="469.1" cy="757.5" r="5.05"/><circle cx="478.1" cy="758.0" r="5.05"/><circle cx="483.6" cy="757.4" r="5.05"/><circle cx="498.0" cy="757.1" r="5.05"/><circle cx="203.3" cy="420.4" r="5.05"/><circle cx="255.4" cy="429.3" r="5.05"/><circle cx="159.4" cy="470.2" r="5.05"/><circle cx="246.8" cy="480.1" r="5.05"/><circle cx="192.5" cy="502.1" r="5.05"/><circle cx="236.5" cy="512.1" r="5.05"/><circle cx="226.5" cy="498.0" r="5.05"/><circle cx="245.7" cy="519.8" r="5.05"/><circle cx="324.8" cy="496.3" r="5.05"/><circle cx="299.1" cy="517.4" r="5.05"/><circle cx="173.2" cy="540.7" r="5.05"/><circle cx="170.7" cy="550.6" r="5.05"/><circle cx="193.9" cy="544.8" r="5.05"/><circle cx="263.4" cy="562.2" r="5.05"/><circle cx="240.2" cy="578.3" r="5.05"/><circle cx="229.1" cy="583.4" r="5.05"/><circle cx="261.2" cy="587.8" r="5.05"/><circle cx="213.7" cy="595.3" r="5.05"/><circle cx="157.4" cy="582.9" r="5.05"/><circle cx="250.4" cy="597.0" r="5.05"/><circle cx="257.6" cy="618.5" r="5.05"/><circle cx="229.4" cy="616.8" r="5.05"/><circle cx="285.7" cy="629.2" r="5.05"/><circle cx="282.4" cy="633.4" r="5.05"/><circle cx="267.5" cy="635.0" r="5.05"/><circle cx="231.1" cy="630.9" r="5.05"/><circle cx="223.6" cy="637.5" r="5.05"/><circle cx="210.4" cy="640.8" r="5.05"/><circle cx="238.5" cy="654.0" r="5.05"/><circle cx="250.9" cy="647.4" r="5.05"/><circle cx="160.8" cy="642.5" r="5.05"/><circle cx="289.0" cy="589.5" r="5.05"/><circle cx="322.3" cy="541.5" r="5.05"/><circle cx="318.5" cy="563.4" r="5.05"/><circle cx="368.3" cy="557.2" r="5.05"/><circle cx="397.6" cy="574.6" r="5.05"/><circle cx="330.5" cy="587.8" r="5.05"/><circle cx="400.9" cy="592.8" r="5.05"/><circle cx="402.5" cy="597.0" r="5.05"/><circle cx="292.5" cy="592.8" r="5.05"/><circle cx="344.6" cy="603.9" r="5.05"/><circle cx="298.3" cy="607.7" r="5.05"/><circle cx="296.6" cy="616.8" r="5.05"/><circle cx="317.3" cy="636.7" r="5.05"/><circle cx="339.3" cy="642.1" r="5.05"/><circle cx="359.5" cy="638.3" r="5.05"/><circle cx="366.1" cy="635.8" r="5.05"/><circle cx="388.5" cy="653.2" r="5.05"/><circle cx="314.0" cy="653.2" r="5.05"/><circle cx="428.2" cy="646.6" r="5.05"/><circle cx="404.2" cy="657.4" r="5.05"/><circle cx="377.7" cy="656.5" r="5.05"/><circle cx="349.2" cy="659.0" r="5.05"/><circle cx="307.4" cy="660.0" r="5.05"/><circle cx="474.3" cy="569.3" r="5.05"/><circle cx="437.9" cy="626.7" r="5.05"/><circle cx="508.3" cy="651.2" r="5.05"/><circle cx="162.4" cy="674.1" r="5.05"/><circle cx="156.6" cy="695.6" r="5.05"/><circle cx="174.8" cy="696.4" r="5.05"/><circle cx="181.4" cy="714.6" r="5.05"/><circle cx="191.4" cy="727.0" r="5.05"/><circle cx="200.5" cy="721.2" r="5.05"/><circle cx="198.0" cy="729.5" r="5.05"/><circle cx="222.8" cy="672.4" r="5.05"/><circle cx="229.4" cy="684.8" r="5.05"/><circle cx="230.3" cy="693.1" r="5.05"/><circle cx="210.4" cy="689.8" r="5.05"/><circle cx="251.8" cy="687.3" r="5.05"/><circle cx="255.9" cy="681.5" r="5.05"/><circle cx="287.4" cy="685.7" r="5.05"/><circle cx="240.2" cy="715.4" r="5.05"/><circle cx="224.5" cy="711.3" r="5.05"/><circle cx="276.6" cy="726.2" r="5.05"/><circle cx="246.0" cy="741.1" r="5.05"/><circle cx="227.0" cy="737.8" r="5.05"/><circle cx="207.1" cy="739.4" r="5.05"/><circle cx="227.8" cy="756.0" r="5.05"/><circle cx="275.8" cy="757.6" r="5.05"/><circle cx="262.5" cy="759.3" r="5.05"/><circle cx="215.4" cy="725.4" r="5.05"/><circle cx="222.8" cy="661.7" r="5.05"/><circle cx="194.7" cy="704.7" r="5.05"/><circle cx="265.8" cy="673.2" r="5.05"/><circle cx="321.4" cy="665.0" r="5.05"/><circle cx="325.6" cy="665.0" r="5.05"/><circle cx="357.0" cy="669.9" r="5.05"/><circle cx="357.8" cy="679.9" r="5.05"/><circle cx="367.8" cy="679.0" r="5.05"/><circle cx="388.5" cy="666.6" r="5.05"/><circle cx="401.7" cy="676.5" r="5.05"/><circle cx="306.5" cy="682.3" r="5.05"/><circle cx="329.7" cy="698.1" r="5.05"/><circle cx="345.4" cy="689.8" r="5.05"/><circle cx="408.3" cy="698.9" r="5.05"/><circle cx="424.0" cy="690.6" r="5.05"/><circle cx="417.4" cy="700.5" r="5.05"/><circle cx="299.1" cy="713.8" r="5.05"/><circle cx="390.9" cy="718.7" r="5.05"/><circle cx="356.2" cy="722.1" r="5.05"/><circle cx="321.4" cy="725.4" r="5.05"/><circle cx="405.0" cy="725.4" r="5.05"/><circle cx="314.8" cy="739.4" r="5.05"/><circle cx="328.1" cy="737.0" r="5.05"/><circle cx="321.4" cy="757.6" r="5.05"/><circle cx="299.1" cy="760.9" r="5.05"/><circle cx="382.7" cy="753.5" r="5.05"/><circle cx="404.2" cy="739.4" r="5.05"/><circle cx="420.7" cy="750.2" r="5.05"/><circle cx="375.2" cy="708.0" r="5.05"/><circle cx="456.5" cy="667.4" r="5.05"/><circle cx="439.9" cy="676.5" r="5.05"/><circle cx="459.0" cy="691.4" r="5.05"/><circle cx="474.3" cy="692.3" r="5.05"/><circle cx="512.7" cy="688.1" r="5.05"/><circle cx="526.8" cy="689.8" r="5.05"/><circle cx="533.4" cy="684.8" r="5.05"/><circle cx="548.3" cy="693.1" r="5.05"/><circle cx="550.3" cy="702.2" r="5.05"/><circle cx="559.1" cy="708.0" r="5.05"/><circle cx="494.0" cy="700.2" r="5.05"/><circle cx="459.8" cy="707.2" r="5.05"/><circle cx="511.1" cy="717.9" r="5.05"/><circle cx="507.8" cy="708.0" r="5.05"/><circle cx="442.4" cy="727.0" r="5.05"/><circle cx="484.6" cy="723.7" r="5.05"/><circle cx="522.7" cy="732.8" r="5.05"/><circle cx="565.7" cy="737.8" r="5.05"/><circle cx="450.7" cy="753.5" r="5.05"/><circle cx="454.8" cy="758.5" r="5.05"/><circle cx="435.8" cy="757.6" r="5.05"/><circle cx="559.1" cy="761.8" r="5.05"/><circle cx="544.2" cy="742.7" r="5.05"/><circle cx="476.3" cy="717.9" r="5.05"/><circle cx="496.2" cy="746.9" r="5.05"/><circle cx="507.8" cy="755.2" r="5.05"/><circle cx="430.8" cy="693.1" r="5.05"/><circle cx="431.7" cy="703.0" r="5.05"/><circle cx="585.4" cy="693.1" r="5.05"/><circle cx="626.3" cy="718.7" r="5.05"/><circle cx="584.9" cy="725.9" r="5.05"/><circle cx="606.4" cy="736.1" r="5.05"/><circle cx="654.7" cy="729.5" r="5.05"/><circle cx="614.3" cy="744.1" r="5.05"/><circle cx="631.6" cy="742.7" r="5.05"/><circle cx="576.6" cy="746.1" r="5.05"/><circle cx="133.6" cy="708.0" r="5.05"/><circle cx="130.3" cy="716.3" r="5.05"/><circle cx="120.4" cy="731.2" r="5.05"/><circle cx="143.6" cy="754.3" r="5.05"/></g>
<g fill="#008000"><circle cx="133.9" cy="361.5" r="5.05"/><circle cx="239.4" cy="401.2" r="5.05"/><circle cx="245.5" cy="409.3" r="5.05"/><circle cx="203.3" cy="418.1" r="5.05"/><circle cx="196.0" cy="433.8" r="5.05"/><circle cx="211.2" cy="432.1" r="5.05"/><circle cx="266.7" cy="440.1" r="5.05"/><circle cx="249.6" cy="481.3" r="5.05"/><circle cx="229.4" cy="486.7" r="5.05"/><circle cx="214.2" cy="493.4" r="5.05"/><circle cx="226.1" cy="501.3" r="5.05"/><circle cx="214.5" cy="504.1" r="5.05"/><circle cx="200.5" cy="507.4" r="5.05"/><circle cx="208.7" cy="516.0" r="5.05"/><circle cx="256.7" cy="519.8" r="5.05"/><circle cx="201.8" cy="461.6" r="5.05"/><circle cx="291.3" cy="453.3" r="5.05"/><circle cx="355.7" cy="460.3" r="5.05"/><circle cx="306.1" cy="474.3" r="5.05"/><circle cx="299.4" cy="498.3" r="5.05"/><circle cx="343.3" cy="510.2" r="5.05"/><circle cx="190.5" cy="521.7" r="5.05"/><circle cx="258.4" cy="523.3" r="5.05"/><circle cx="269.1" cy="527.4" r="5.05"/><circle cx="249.3" cy="534.1" r="5.05"/><circle cx="169.9" cy="542.3" r="5.05"/><circle cx="258.4" cy="546.5" r="5.05"/><circle cx="174.8" cy="552.3" r="5.05"/><circle cx="181.4" cy="553.1" r="5.05"/><circle cx="203.0" cy="563.0" r="5.05"/><circle cx="258.4" cy="558.1" r="5.05"/><circle cx="289.0" cy="556.4" r="5.05"/><circle cx="279.1" cy="564.7" r="5.05"/><circle cx="271.6" cy="568.8" r="5.05"/><circle cx="174.8" cy="567.2" r="5.05"/><circle cx="194.7" cy="581.2" r="5.05"/><circle cx="261.7" cy="576.3" r="5.05"/><circle cx="284.0" cy="583.7" r="5.05"/><circle cx="245.2" cy="586.2" r="5.05"/><circle cx="220.7" cy="590.3" r="5.05"/><circle cx="246.8" cy="601.1" r="5.05"/><circle cx="237.7" cy="601.1" r="5.05"/><circle cx="264.2" cy="597.8" r="5.05"/><circle cx="289.0" cy="595.3" r="5.05"/><circle cx="275.8" cy="606.1" r="5.05"/><circle cx="285.7" cy="607.7" r="5.05"/><circle cx="226.1" cy="610.2" r="5.05"/><circle cx="219.5" cy="614.3" r="5.05"/><circle cx="222.8" cy="616.0" r="5.05"/><circle cx="239.4" cy="617.6" r="5.05"/><circle cx="246.0" cy="619.3" r="5.05"/><circle cx="260.9" cy="619.3" r="5.05"/><circle cx="282.4" cy="617.6" r="5.05"/><circle cx="282.4" cy="625.9" r="5.05"/><circle cx="250.9" cy="627.6" r="5.05"/><circle cx="239.4" cy="634.2" r="5.05"/><circle cx="203.0" cy="633.4" r="5.05"/><circle cx="170.7" cy="633.4" r="5.05"/><circle cx="175.7" cy="634.2" r="5.05"/><circle cx="164.9" cy="639.1" r="5.05"/><circle cx="227.8" cy="635.8" r="5.05"/><circle cx="270.0" cy="635.8" r="5.05"/><circle cx="275.8" cy="637.5" r="5.05"/><circle cx="199.6" cy="642.5" r="5.05"/><circle cx="206.3" cy="649.1" r="5.05"/><circle cx="232.7" cy="644.1" r="5.05"/><circle cx="246.0" cy="645.8" r="5.05"/><circle cx="277.4" cy="647.4" r="5.05"/><circle cx="289.0" cy="639.1" r="5.05"/><circle cx="164.9" cy="650.7" r="5.05"/><circle cx="191.4" cy="657.4" r="5.05"/><circle cx="212.9" cy="652.4" r="5.05"/><circle cx="222.0" cy="647.4" r="5.05"/><circle cx="247.6" cy="652.4" r="5.05"/><circle cx="268.3" cy="654.0" r="5.05"/><circle cx="264.2" cy="645.8" r="5.05"/><circle cx="166.5" cy="658.2" r="5.05"/><circle cx="174.8" cy="609.4" r="5.05"/><circle cx="183.1" cy="601.1" r="5.05"/><circle cx="161.6" cy="591.2" r="5.05"/><circle cx="342.6" cy="528.3" r="5.05"/><circle cx="374.4" cy="545.7" r="5.05"/><circle cx="405.3" cy="547.0" r="5.05"/><circle cx="321.4" cy="547.3" r="5.05"/><circle cx="303.6" cy="551.4" r="5.05"/><circle cx="331.4" cy="558.4" r="5.05"/><circle cx="338.3" cy="558.4" r="5.05"/><circle cx="356.5" cy="559.4" r="5.05"/><circle cx="346.6" cy="567.2" r="5.05"/><circle cx="307.4" cy="574.1" r="5.05"/><circle cx="345.4" cy="576.3" r="5.05"/><circle cx="426.2" cy="572.1" r="5.05"/><circle cx="381.5" cy="578.3" r="5.05"/><circle cx="402.5" cy="577.1" r="5.05"/><circle cx="395.1" cy="580.4" r="5.05"/><circle cx="395.9" cy="583.7" r="5.05"/><circle cx="337.5" cy="585.4" r="5.05"/><circle cx="347.1" cy="588.3" r="5.05"/><circle cx="355.4" cy="589.5" r="5.05"/><circle cx="406.2" cy="589.2" r="5.05"/><circle cx="380.7" cy="590.3" r="5.05"/><circle cx="378.2" cy="597.0" r="5.05"/><circle cx="317.3" cy="595.3" r="5.05"/><circle cx="329.7" cy="595.3" r="5.05"/><circle cx="426.2" cy="598.1" r="5.05"/><circle cx="405.8" cy="599.4" r="5.05"/><circle cx="413.3" cy="601.1" r="5.05"/><circle cx="297.4" cy="601.1" r="5.05"/><circle cx="301.6" cy="600.3" r="5.05"/><circle cx="335.5" cy="605.2" r="5.05"/><circle cx="348.3" cy="606.4" r="5.05"/><circle cx="367.3" cy="606.1" r="5.05"/><circle cx="411.6" cy="610.2" r="5.05"/><circle cx="411.6" cy="613.5" r="5.05"/><circle cx="371.9" cy="614.3" r="5.05"/><circle cx="365.3" cy="616.0" r="5.05"/><circle cx="311.5" cy="616.5" r="5.05"/><circle cx="429.0" cy="617.6" r="5.05"/><circle cx="297.4" cy="619.3" r="5.05"/><circle cx="392.6" cy="626.2" r="5.05"/><circle cx="299.1" cy="625.9" r="5.05"/><circle cx="310.7" cy="627.6" r="5.05"/><circle cx="299.9" cy="630.0" r="5.05"/><circle cx="297.4" cy="635.8" r="5.05"/><circle cx="344.3" cy="634.2" r="5.05"/><circle cx="354.5" cy="635.3" r="5.05"/><circle cx="376.4" cy="635.3" r="5.05"/><circle cx="409.5" cy="635.3" r="5.05"/><circle cx="367.3" cy="640.3" r="5.05"/><circle cx="379.4" cy="641.6" r="5.05"/><circle cx="316.5" cy="644.1" r="5.05"/><circle cx="323.9" cy="644.1" r="5.05"/><circle cx="326.4" cy="647.4" r="5.05"/><circle cx="295.8" cy="647.8" r="5.05"/><circle cx="305.7" cy="647.4" r="5.05"/><circle cx="344.6" cy="649.1" r="5.05"/><circle cx="348.7" cy="650.7" r="5.05"/><circle cx="381.5" cy="649.1" r="5.05"/><circle cx="419.1" cy="647.4" r="5.05"/><circle cx="406.7" cy="649.9" r="5.05"/><circle cx="410.8" cy="651.6" r="5.05"/><circle cx="304.1" cy="653.2" r="5.05"/><circle cx="314.0" cy="656.5" r="5.05"/><circle cx="392.6" cy="655.7" r="5.05"/><circle cx="385.2" cy="657.4" r="5.05"/><circle cx="429.0" cy="650.7" r="5.05"/><circle cx="337.2" cy="659.0" r="5.05"/><circle cx="299.9" cy="657.4" r="5.05"/><circle cx="419.1" cy="660.0" r="5.05"/><circle cx="473.5" cy="589.5" r="5.05"/><circle cx="469.4" cy="610.5" r="5.05"/><circle cx="524.3" cy="608.2" r="5.05"/><circle cx="454.5" cy="622.3" r="5.05"/><circle cx="522.7" cy="628.4" r="5.05"/><circle cx="435.8" cy="628.4" r="5.05"/><circle cx="450.4" cy="636.3" r="5.05"/><circle cx="477.5" cy="635.3" r="5.05"/><circle cx="440.4" cy="645.3" r="5.05"/><circle cx="479.3" cy="648.3" r="5.05"/><circle cx="456.5" cy="653.7" r="5.05"/><circle cx="488.7" cy="657.4" r="5.05"/><circle cx="457.3" cy="658.2" r="5.05"/><circle cx="499.5" cy="660.3" r="5.05"/><circle cx="520.2" cy="660.3" r="5.05"/><circle cx="525.2" cy="660.3" r="5.05"/><circle cx="174.0" cy="665.8" r="5.05"/><circle cx="241.0" cy="663.3" r="5.05"/><circle cx="260.9" cy="666.6" r="5.05"/><circle cx="271.6" cy="666.6" r="5.05"/><circle cx="284.0" cy="669.1" r="5.05"/><circle cx="289.0" cy="663.3" r="5.05"/><circle cx="231.1" cy="671.6" r="5.05"/><circle cx="179.8" cy="672.4" r="5.05"/><circle cx="203.0" cy="676.5" r="5.05"/><circle cx="222.0" cy="677.4" r="5.05"/><circle cx="244.3" cy="674.1" r="5.05"/><circle cx="257.6" cy="674.1" r="5.05"/><circle cx="264.2" cy="674.9" r="5.05"/><circle cx="270.0" cy="677.4" r="5.05"/><circle cx="171.5" cy="676.5" r="5.05"/><circle cx="155.0" cy="681.5" r="5.05"/><circle cx="159.9" cy="685.7" r="5.05"/><circle cx="174.0" cy="686.5" r="5.05"/><circle cx="187.2" cy="689.0" r="5.05"/><circle cx="204.6" cy="684.8" r="5.05"/><circle cx="214.5" cy="682.3" r="5.05"/><circle cx="239.4" cy="684.8" r="5.05"/><circle cx="270.0" cy="684.0" r="5.05"/><circle cx="273.3" cy="684.8" r="5.05"/><circle cx="199.6" cy="693.9" r="5.05"/><circle cx="215.4" cy="693.1" r="5.05"/><circle cx="221.2" cy="692.3" r="5.05"/><circle cx="234.4" cy="695.6" r="5.05"/><circle cx="242.7" cy="691.4" r="5.05"/><circle cx="252.6" cy="694.8" r="5.05"/><circle cx="262.5" cy="692.3" r="5.05"/><circle cx="286.5" cy="692.3" r="5.05"/><circle cx="158.3" cy="699.7" r="5.05"/><circle cx="165.7" cy="698.9" r="5.05"/><circle cx="289.0" cy="699.7" r="5.05"/><circle cx="180.6" cy="703.0" r="5.05"/><circle cx="222.8" cy="702.2" r="5.05"/><circle cx="255.9" cy="701.4" r="5.05"/><circle cx="265.8" cy="703.0" r="5.05"/><circle cx="191.4" cy="708.0" r="5.05"/><circle cx="162.4" cy="709.1" r="5.05"/><circle cx="234.4" cy="709.1" r="5.05"/><circle cx="206.3" cy="709.6" r="5.05"/><circle cx="221.2" cy="709.6" r="5.05"/><circle cx="249.3" cy="708.0" r="5.05"/><circle cx="259.2" cy="709.6" r="5.05"/><circle cx="269.1" cy="709.6" r="5.05"/><circle cx="215.4" cy="713.8" r="5.05"/><circle cx="220.3" cy="716.3" r="5.05"/><circle cx="242.7" cy="716.3" r="5.05"/><circle cx="247.6" cy="717.9" r="5.05"/><circle cx="265.8" cy="716.3" r="5.05"/><circle cx="274.1" cy="717.9" r="5.05"/><circle cx="285.7" cy="719.6" r="5.05"/><circle cx="207.1" cy="722.9" r="5.05"/><circle cx="180.6" cy="722.1" r="5.05"/><circle cx="176.5" cy="725.4" r="5.05"/><circle cx="182.3" cy="726.2" r="5.05"/><circle cx="154.1" cy="725.4" r="5.05"/><circle cx="214.5" cy="726.2" r="5.05"/><circle cx="237.7" cy="724.5" r="5.05"/><circle cx="244.3" cy="726.2" r="5.05"/><circle cx="252.6" cy="726.2" r="5.05"/><circle cx="262.5" cy="724.5" r="5.05"/><circle cx="270.8" cy="726.2" r="5.05"/><circle cx="282.4" cy="726.2" r="5.05"/><circle cx="289.0" cy="729.5" r="5.05"/><circle cx="197.2" cy="732.8" r="5.05"/><circle cx="170.7" cy="735.3" r="5.05"/><circle cx="167.4" cy="738.6" r="5.05"/><circle cx="209.6" cy="732.8" r="5.05"/><circle cx="219.5" cy="732.8" r="5.05"/><circle cx="233.6" cy="732.8" r="5.05"/><circle cx="242.7" cy="731.2" r="5.05"/><circle cx="255.9" cy="732.8" r="5.05"/><circle cx="265.8" cy="732.8" r="5.05"/><circle cx="272.5" cy="732.8" r="5.05"/><circle cx="153.3" cy="737.0" r="5.05"/><circle cx="187.2" cy="737.8" r="5.05"/><circle cx="183.9" cy="739.4" r="5.05"/><circle cx="195.5" cy="741.1" r="5.05"/><circle cx="199.6" cy="739.4" r="5.05"/><circle cx="204.6" cy="744.4" r="5.05"/><circle cx="215.4" cy="739.4" r="5.05"/><circle cx="221.2" cy="737.8" r="5.05"/><circle cx="213.7" cy="745.2" r="5.05"/><circle cx="226.1" cy="746.1" r="5.05"/><circle cx="232.7" cy="742.7" r="5.05"/><circle cx="240.2" cy="739.4" r="5.05"/><circle cx="242.7" cy="742.7" r="5.05"/><circle cx="255.9" cy="739.4" r="5.05"/><circle cx="264.2" cy="741.1" r="5.05"/><circle cx="272.5" cy="739.4" r="5.05"/><circle cx="181.4" cy="746.9" r="5.05"/><circle cx="185.6" cy="749.4" r="5.05"/><circle cx="189.7" cy="752.7" r="5.05"/><circle cx="224.5" cy="749.4" r="5.05"/><circle cx="232.7" cy="751.0" r="5.05"/><circle cx="239.4" cy="752.7" r="5.05"/><circle cx="259.2" cy="747.7" r="5.05"/><circle cx="265.8" cy="749.4" r="5.05"/><circle cx="272.5" cy="751.0" r="5.05"/><circle cx="280.7" cy="749.4" r="5.05"/><circle cx="287.4" cy="751.0" r="5.05"/><circle cx="203.0" cy="754.3" r="5.05"/><circle cx="207.9" cy="754.3" r="5.05"/><circle cx="187.2" cy="757.6" r="5.05"/><circle cx="198.8" cy="760.1" r="5.05"/><circle cx="204.6" cy="761.8" r="5.05"/><circle cx="210.4" cy="760.9" r="5.05"/><circle cx="222.0" cy="759.3" r="5.05"/><circle cx="239.4" cy="757.6" r="5.05"/><circle cx="253.4" cy="757.6" r="5.05"/><circle cx="264.2" cy="756.0" r="5.05"/><circle cx="270.0" cy="760.1" r="5.05"/><circle cx="282.4" cy="759.3" r="5.05"/><circle cx="287.4" cy="756.0" r="5.05"/><circle cx="161.3" cy="759.3" r="5.05"/><circle cx="150.0" cy="755.2" r="5.05"/><circle cx="259.2" cy="752.7" r="5.05"/><circle cx="275.8" cy="756.0" r="5.05"/><circle cx="313.6" cy="682.2" r="5.05"/><circle cx="322.4" cy="683.1" r="5.05"/><circle cx="328.0" cy="683.1" r="5.05"/><circle cx="376.5" cy="684.5" r="5.05"/><circle cx="382.6" cy="684.7" r="5.05"/><circle cx="387.6" cy="684.3" r="5.05"/><circle cx="393.9" cy="684.8" r="5.05"/><circle cx="405.0" cy="682.1" r="5.05"/><circle cx="414.2" cy="682.9" r="5.05"/><circle cx="419.0" cy="682.4" r="5.05"/><circle cx="424.7" cy="682.8" r="5.05"/><circle cx="299.5" cy="689.9" r="5.05"/><circle cx="306.0" cy="690.0" r="5.05"/><circle cx="312.7" cy="690.3" r="5.05"/><circle cx="318.2" cy="687.2" r="5.05"/><circle cx="325.0" cy="690.2" r="5.05"/><circle cx="331.3" cy="688.7" r="5.05"/><circle cx="336.7" cy="687.4" r="5.05"/><circle cx="355.6" cy="690.3" r="5.05"/><circle cx="358.9" cy="689.6" r="5.05"/><circle cx="366.2" cy="687.2" r="5.05"/><circle cx="371.9" cy="689.4" r="5.05"/><circle cx="380.1" cy="686.8" r="5.05"/><circle cx="385.3" cy="686.8" r="5.05"/><circle cx="391.8" cy="687.9" r="5.05"/><circle cx="398.5" cy="690.2" r="5.05"/><circle cx="415.9" cy="686.8" r="5.05"/><circle cx="295.4" cy="695.4" r="5.05"/><circle cx="303.7" cy="693.3" r="5.05"/><circle cx="308.2" cy="693.8" r="5.05"/><circle cx="315.0" cy="694.1" r="5.05"/><circle cx="351.4" cy="692.0" r="5.05"/><circle cx="357.0" cy="694.1" r="5.05"/><circle cx="361.7" cy="694.2" r="5.05"/><circle cx="370.1" cy="692.2" r="5.05"/><circle cx="376.2" cy="693.6" r="5.05"/><circle cx="382.5" cy="693.2" r="5.05"/><circle cx="388.7" cy="694.6" r="5.05"/><circle cx="392.4" cy="692.2" r="5.05"/><circle cx="400.9" cy="695.5" r="5.05"/><circle cx="412.8" cy="693.1" r="5.05"/><circle cx="418.1" cy="693.1" r="5.05"/><circle cx="300.2" cy="697.4" r="5.05"/><circle cx="305.6" cy="699.9" r="5.05"/><circle cx="310.7" cy="698.1" r="5.05"/><circle cx="353.7" cy="699.6" r="5.05"/><circle cx="361.8" cy="698.9" r="5.05"/><circle cx="365.5" cy="697.7" r="5.05"/><circle cx="379.9" cy="700.3" r="5.05"/><circle cx="383.8" cy="698.3" r="5.05"/><circle cx="392.1" cy="699.6" r="5.05"/><circle cx="398.3" cy="698.5" r="5.05"/><circle cx="401.9" cy="698.3" r="5.05"/><circle cx="429.3" cy="697.8" r="5.05"/><circle cx="288.2" cy="706.0" r="5.05"/><circle cx="297.5" cy="706.2" r="5.05"/><circle cx="302.0" cy="706.0" r="5.05"/><circle cx="309.9" cy="703.4" r="5.05"/><circle cx="315.4" cy="705.6" r="5.05"/><circle cx="321.2" cy="704.4" r="5.05"/><circle cx="326.0" cy="703.8" r="5.05"/><circle cx="352.7" cy="705.1" r="5.05"/><circle cx="358.9" cy="705.8" r="5.05"/><circle cx="382.4" cy="704.5" r="5.05"/><circle cx="387.7" cy="706.0" r="5.05"/><circle cx="394.5" cy="703.8" r="5.05"/><circle cx="399.3" cy="705.7" r="5.05"/><circle cx="406.3" cy="705.4" r="5.05"/><circle cx="423.5" cy="705.4" r="5.05"/><circle cx="305.8" cy="711.0" r="5.05"/><circle cx="309.8" cy="708.8" r="5.05"/><circle cx="316.7" cy="709.8" r="5.05"/><circle cx="323.4" cy="709.6" r="5.05"/><circle cx="330.8" cy="707.9" r="5.05"/><circle cx="334.3" cy="708.3" r="5.05"/><circle cx="340.7" cy="708.1" r="5.05"/><circle cx="349.9" cy="711.0" r="5.05"/><circle cx="352.8" cy="709.7" r="5.05"/><circle cx="359.7" cy="709.0" r="5.05"/><circle cx="366.0" cy="710.2" r="5.05"/><circle cx="383.5" cy="709.9" r="5.05"/><circle cx="402.8" cy="710.1" r="5.05"/><circle cx="410.4" cy="709.2" r="5.05"/><circle cx="416.6" cy="710.1" r="5.05"/><circle cx="421.4" cy="709.2" r="5.05"/><circle cx="427.8" cy="710.4" r="5.05"/><circle cx="289.7" cy="715.7" r="5.05"/><circle cx="306.8" cy="714.7" r="5.05"/><circle cx="314.2" cy="716.4" r="5.05"/><circle cx="322.2" cy="714.5" r="5.05"/><circle cx="328.2" cy="716.0" r="5.05"/><circle cx="332.0" cy="714.9" r="5.05"/><circle cx="337.6" cy="716.1" r="5.05"/><circle cx="345.7" cy="716.4" r="5.05"/><circle cx="352.3" cy="715.6" r="5.05"/><circle cx="358.2" cy="715.2" r="5.05"/><circle cx="362.0" cy="715.3" r="5.05"/><circle cx="367.8" cy="713.7" r="5.05"/><circle cx="380.4" cy="713.5" r="5.05"/><circle cx="407.0" cy="716.2" r="5.05"/><circle cx="414.1" cy="715.3" r="5.05"/><circle cx="419.7" cy="713.3" r="5.05"/><circle cx="425.7" cy="715.0" r="5.05"/><circle cx="293.8" cy="718.9" r="5.05"/><circle cx="300.1" cy="721.9" r="5.05"/><circle cx="303.7" cy="719.6" r="5.05"/><circle cx="311.7" cy="721.5" r="5.05"/><circle cx="316.6" cy="719.1" r="5.05"/><circle cx="330.7" cy="719.9" r="5.05"/><circle cx="335.4" cy="719.9" r="5.05"/><circle cx="341.5" cy="720.0" r="5.05"/><circle cx="346.7" cy="720.3" r="5.05"/><circle cx="361.3" cy="719.0" r="5.05"/><circle cx="367.2" cy="721.2" r="5.05"/><circle cx="373.3" cy="720.3" r="5.05"/><circle cx="378.7" cy="720.8" r="5.05"/><circle cx="398.7" cy="720.3" r="5.05"/><circle cx="408.3" cy="719.4" r="5.05"/><circle cx="414.4" cy="720.6" r="5.05"/><circle cx="421.0" cy="719.3" r="5.05"/><circle cx="428.5" cy="721.9" r="5.05"/><circle cx="295.8" cy="726.9" r="5.05"/><circle cx="302.6" cy="724.7" r="5.05"/><circle cx="307.3" cy="723.9" r="5.05"/><circle cx="331.6" cy="727.4" r="5.05"/><circle cx="338.9" cy="725.9" r="5.05"/><circle cx="345.0" cy="726.8" r="5.05"/><circle cx="364.8" cy="725.2" r="5.05"/><circle cx="370.4" cy="727.3" r="5.05"/><circle cx="375.6" cy="724.6" r="5.05"/><circle cx="380.9" cy="726.4" r="5.05"/><circle cx="388.6" cy="727.3" r="5.05"/><circle cx="395.4" cy="724.6" r="5.05"/><circle cx="399.1" cy="724.7" r="5.05"/><circle cx="413.8" cy="727.0" r="5.05"/><circle cx="417.7" cy="726.9" r="5.05"/><circle cx="424.0" cy="725.3" r="5.05"/><circle cx="293.9" cy="729.4" r="5.05"/><circle cx="297.7" cy="732.1" r="5.05"/><circle cx="304.5" cy="730.4" r="5.05"/><circle cx="328.7" cy="731.2" r="5.05"/><circle cx="337.6" cy="730.5" r="5.05"/><circle cx="342.2" cy="729.5" r="5.05"/><circle cx="347.3" cy="731.5" r="5.05"/><circle cx="352.9" cy="732.3" r="5.05"/><circle cx="361.9" cy="729.4" r="5.05"/><circle cx="368.1" cy="730.4" r="5.05"/><circle cx="373.7" cy="731.8" r="5.05"/><circle cx="378.0" cy="731.5" r="5.05"/><circle cx="385.5" cy="732.0" r="5.05"/><circle cx="390.2" cy="731.8" r="5.05"/><circle cx="398.8" cy="731.5" r="5.05"/><circle cx="409.4" cy="730.4" r="5.05"/><circle cx="416.3" cy="731.5" r="5.05"/><circle cx="421.9" cy="729.7" r="5.05"/><circle cx="428.3" cy="731.4" r="5.05"/><circle cx="288.8" cy="737.6" r="5.05"/><circle cx="296.7" cy="734.8" r="5.05"/><circle cx="303.8" cy="734.9" r="5.05"/><circle cx="307.8" cy="737.0" r="5.05"/><circle cx="339.9" cy="736.3" r="5.05"/><circle cx="346.0" cy="735.7" r="5.05"/><circle cx="350.4" cy="735.8" r="5.05"/><circle cx="358.7" cy="734.5" r="5.05"/><circle cx="363.5" cy="735.3" r="5.05"/><circle cx="370.6" cy="735.7" r="5.05"/><circle cx="375.1" cy="735.8" r="5.05"/><circle cx="382.0" cy="737.2" r="5.05"/><circle cx="387.4" cy="737.5" r="5.05"/><circle cx="392.7" cy="735.4" r="5.05"/><circle cx="398.8" cy="734.8" r="5.05"/><circle cx="411.3" cy="735.1" r="5.05"/><circle cx="418.3" cy="737.1" r="5.05"/><circle cx="425.9" cy="737.1" r="5.05"/><circle cx="293.4" cy="740.2" r="5.05"/><circle cx="298.8" cy="740.4" r="5.05"/><circle cx="305.4" cy="741.7" r="5.05"/><circle cx="324.8" cy="742.9" r="5.05"/><circle cx="336.1" cy="741.8" r="5.05"/><circle cx="342.5" cy="743.2" r="5.05"/><circle cx="348.8" cy="740.8" r="5.05"/><circle cx="355.6" cy="741.4" r="5.05"/><circle cx="360.8" cy="742.3" r="5.05"/><circle cx="364.7" cy="742.5" r="5.05"/><circle cx="373.2" cy="741.5" r="5.05"/><circle cx="378.9" cy="741.4" r="5.05"/><circle cx="383.8" cy="741.6" r="5.05"/><circle cx="389.3" cy="741.5" r="5.05"/><circle cx="397.7" cy="741.3" r="5.05"/><circle cx="410.8" cy="740.2" r="5.05"/><circle cx="416.6" cy="741.9" r="5.05"/><circle cx="420.0" cy="741.0" r="5.05"/><circle cx="426.8" cy="740.0" r="5.05"/><circle cx="290.1" cy="748.4" r="5.05"/><circle cx="295.5" cy="748.1" r="5.05"/><circle cx="303.0" cy="745.5" r="5.05"/><circle cx="309.7" cy="747.2" r="5.05"/><circle cx="316.0" cy="747.6" r="5.05"/><circle cx="321.5" cy="746.2" r="5.05"/><circle cx="327.9" cy="748.4" r="5.05"/><circle cx="334.2" cy="746.6" r="5.05"/><circle cx="339.9" cy="746.7" r="5.05"/><circle cx="343.7" cy="745.1" r="5.05"/><circle cx="349.7" cy="745.7" r="5.05"/><circle cx="356.1" cy="746.8" r="5.05"/><circle cx="364.2" cy="746.9" r="5.05"/><circle cx="369.3" cy="747.3" r="5.05"/><circle cx="375.0" cy="746.7" r="5.05"/><circle cx="382.8" cy="746.4" r="5.05"/><circle cx="386.8" cy="748.3" r="5.05"/><circle cx="394.9" cy="746.3" r="5.05"/><circle cx="399.7" cy="746.9" r="5.05"/><circle cx="406.7" cy="745.8" r="5.05"/><circle cx="410.6" cy="745.7" r="5.05"/><circle cx="424.6" cy="745.7" r="5.05"/><circle cx="292.0" cy="750.9" r="5.05"/><circle cx="298.8" cy="750.9" r="5.05"/><circle cx="303.6" cy="750.7" r="5.05"/><circle cx="310.2" cy="752.1" r="5.05"/><circle cx="316.0" cy="750.4" r="5.05"/><circle cx="323.5" cy="751.8" r="5.05"/><circle cx="330.5" cy="750.5" r="5.05"/><circle cx="335.6" cy="751.7" r="5.05"/><circle cx="340.3" cy="753.8" r="5.05"/><circle cx="347.1" cy="750.6" r="5.05"/><circle cx="354.2" cy="750.9" r="5.05"/><circle cx="360.9" cy="751.5" r="5.05"/><circle cx="365.2" cy="750.5" r="5.05"/><circle cx="373.5" cy="751.3" r="5.05"/><circle cx="390.1" cy="751.2" r="5.05"/><circle cx="398.3" cy="752.6" r="5.05"/><circle cx="402.7" cy="750.6" r="5.05"/><circle cx="410.1" cy="753.8" r="5.05"/><circle cx="426.6" cy="750.4" r="5.05"/><circle cx="296.6" cy="667.4" r="5.05"/><circle cx="362.8" cy="664.1" r="5.05"/><circle cx="371.1" cy="667.4" r="5.05"/><circle cx="380.2" cy="662.5" r="5.05"/><circle cx="382.7" cy="668.3" r="5.05"/><circle cx="409.1" cy="664.1" r="5.05"/><circle cx="419.9" cy="671.6" r="5.05"/><circle cx="429.0" cy="669.9" r="5.05"/><circle cx="398.4" cy="670.8" r="5.05"/><circle cx="315.7" cy="670.8" r="5.05"/><circle cx="325.6" cy="672.4" r="5.05"/><circle cx="351.2" cy="672.4" r="5.05"/><circle cx="308.2" cy="676.5" r="5.05"/><circle cx="338.0" cy="673.2" r="5.05"/><circle cx="372.7" cy="676.5" r="5.05"/><circle cx="384.3" cy="679.9" r="5.05"/><circle cx="314.8" cy="680.7" r="5.05"/><circle cx="416.6" cy="680.7" r="5.05"/><circle cx="299.9" cy="760.1" r="5.05"/><circle cx="326.4" cy="760.1" r="5.05"/><circle cx="338.0" cy="761.8" r="5.05"/><circle cx="351.2" cy="760.9" r="5.05"/><circle cx="365.3" cy="761.8" r="5.05"/><circle cx="371.1" cy="764.3" r="5.05"/><circle cx="314.8" cy="754.3" r="5.05"/><circle cx="390.9" cy="756.0" r="5.05"/><circle cx="405.8" cy="757.6" r="5.05"/><circle cx="420.7" cy="756.8" r="5.05"/><circle cx="429.0" cy="754.3" r="5.05"/><circle cx="376.1" cy="756.0" r="5.05"/><circle cx="507.8" cy="663.3" r="5.05"/><circle cx="434.1" cy="668.3" r="5.05"/><circle cx="459.0" cy="671.6" r="5.05"/><circle cx="449.9" cy="672.4" r="5.05"/><circle cx="444.9" cy="675.7" r="5.05"/><circle cx="523.5" cy="673.2" r="5.05"/><circle cx="530.9" cy="673.2" r="5.05"/><circle cx="474.3" cy="677.4" r="5.05"/><circle cx="489.2" cy="677.0" r="5.05"/><circle cx="439.9" cy="681.5" r="5.05"/><circle cx="449.9" cy="682.3" r="5.05"/><circle cx="466.4" cy="682.3" r="5.05"/><circle cx="514.4" cy="682.8" r="5.05"/><circle cx="481.3" cy="684.8" r="5.05"/><circle cx="432.5" cy="686.5" r="5.05"/><circle cx="457.3" cy="684.0" r="5.05"/><circle cx="446.5" cy="689.0" r="5.05"/><circle cx="465.6" cy="689.0" r="5.05"/><circle cx="535.1" cy="688.1" r="5.05"/><circle cx="506.1" cy="693.1" r="5.05"/><circle cx="520.5" cy="693.1" r="5.05"/><circle cx="435.0" cy="696.4" r="5.05"/><circle cx="446.5" cy="699.7" r="5.05"/><circle cx="466.4" cy="698.9" r="5.05"/><circle cx="476.3" cy="697.2" r="5.05"/><circle cx="484.6" cy="700.5" r="5.05"/><circle cx="502.8" cy="700.5" r="5.05"/><circle cx="511.9" cy="699.7" r="5.05"/><circle cx="537.2" cy="699.4" r="5.05"/><circle cx="569.0" cy="701.4" r="5.05"/><circle cx="441.6" cy="703.0" r="5.05"/><circle cx="453.2" cy="705.5" r="5.05"/><circle cx="478.0" cy="705.5" r="5.05"/><circle cx="487.1" cy="708.0" r="5.05"/><circle cx="438.3" cy="709.6" r="5.05"/><circle cx="451.5" cy="711.3" r="5.05"/><circle cx="473.0" cy="713.0" r="5.05"/><circle cx="486.3" cy="713.0" r="5.05"/><circle cx="494.5" cy="711.3" r="5.05"/><circle cx="502.8" cy="709.6" r="5.05"/><circle cx="514.4" cy="712.1" r="5.05"/><circle cx="563.5" cy="709.6" r="5.05"/><circle cx="433.3" cy="714.6" r="5.05"/><circle cx="444.1" cy="717.1" r="5.05"/><circle cx="465.6" cy="717.9" r="5.05"/><circle cx="479.6" cy="717.9" r="5.05"/><circle cx="490.4" cy="716.3" r="5.05"/><circle cx="535.9" cy="717.1" r="5.05"/><circle cx="544.2" cy="717.1" r="5.05"/><circle cx="432.5" cy="722.1" r="5.05"/><circle cx="453.2" cy="722.1" r="5.05"/><circle cx="462.3" cy="725.4" r="5.05"/><circle cx="475.5" cy="726.2" r="5.05"/><circle cx="487.9" cy="723.7" r="5.05"/><circle cx="497.8" cy="724.5" r="5.05"/><circle cx="507.0" cy="726.2" r="5.05"/><circle cx="516.1" cy="727.8" r="5.05"/><circle cx="535.9" cy="723.7" r="5.05"/><circle cx="548.3" cy="726.2" r="5.05"/><circle cx="562.4" cy="723.7" r="5.05"/><circle cx="557.4" cy="727.0" r="5.05"/><circle cx="445.7" cy="731.2" r="5.05"/><circle cx="436.6" cy="734.5" r="5.05"/><circle cx="460.6" cy="734.5" r="5.05"/><circle cx="479.6" cy="734.5" r="5.05"/><circle cx="490.4" cy="732.8" r="5.05"/><circle cx="499.5" cy="736.1" r="5.05"/><circle cx="509.4" cy="732.8" r="5.05"/><circle cx="520.2" cy="734.5" r="5.05"/><circle cx="529.3" cy="732.0" r="5.05"/><circle cx="537.6" cy="732.8" r="5.05"/><circle cx="549.1" cy="739.4" r="5.05"/><circle cx="557.4" cy="742.7" r="5.05"/><circle cx="561.6" cy="734.5" r="5.05"/><circle cx="567.4" cy="729.5" r="5.05"/><circle cx="451.5" cy="741.1" r="5.05"/><circle cx="433.3" cy="741.1" r="5.05"/><circle cx="440.8" cy="742.7" r="5.05"/><circle cx="469.7" cy="741.1" r="5.05"/><circle cx="482.1" cy="741.1" r="5.05"/><circle cx="491.2" cy="743.6" r="5.05"/><circle cx="502.8" cy="742.7" r="5.05"/><circle cx="512.7" cy="741.1" r="5.05"/><circle cx="522.7" cy="742.7" r="5.05"/><circle cx="530.9" cy="741.1" r="5.05"/><circle cx="539.2" cy="742.7" r="5.05"/><circle cx="446.5" cy="747.7" r="5.05"/><circle cx="435.0" cy="749.4" r="5.05"/><circle cx="459.8" cy="747.7" r="5.05"/><circle cx="471.4" cy="749.4" r="5.05"/><circle cx="478.8" cy="753.5" r="5.05"/><circle cx="487.9" cy="751.8" r="5.05"/><circle cx="497.8" cy="751.0" r="5.05"/><circle cx="507.8" cy="749.4" r="5.05"/><circle cx="516.9" cy="748.5" r="5.05"/><circle cx="527.6" cy="752.7" r="5.05"/><circle cx="535.9" cy="752.7" r="5.05"/><circle cx="545.8" cy="756.0" r="5.05"/><circle cx="554.1" cy="756.0" r="5.05"/><circle cx="569.0" cy="751.0" r="5.05"/><circle cx="442.4" cy="756.8" r="5.05"/><circle cx="462.3" cy="755.2" r="5.05"/><circle cx="499.5" cy="757.6" r="5.05"/><circle cx="512.7" cy="759.3" r="5.05"/><circle cx="502.8" cy="760.1" r="5.05"/><circle cx="466.4" cy="761.8" r="5.05"/><circle cx="444.1" cy="764.3" r="5.05"/><circle cx="536.4" cy="762.3" r="5.05"/><circle cx="561.9" cy="762.3" r="5.05"/><circle cx="608.6" cy="686.5" r="5.05"/><circle cx="590.4" cy="699.4" r="5.05"/><circle cx="621.6" cy="700.2" r="5.05"/><circle cx="574.1" cy="704.3" r="5.05"/><circle cx="581.6" cy="712.1" r="5.05"/><circle cx="584.9" cy="714.6" r="5.05"/><circle cx="571.7" cy="714.6" r="5.05"/><circle cx="589.9" cy="717.9" r="5.05"/><circle cx="575.0" cy="717.9" r="5.05"/><circle cx="571.7" cy="722.1" r="5.05"/><circle cx="621.6" cy="715.4" r="5.05"/><circle cx="610.5" cy="724.2" r="5.05"/><circle cx="628.4" cy="725.4" r="5.05"/><circle cx="639.5" cy="724.2" r="5.05"/><circle cx="643.6" cy="725.4" r="5.05"/><circle cx="598.5" cy="727.8" r="5.05"/><circle cx="588.2" cy="729.2" r="5.05"/><circle cx="654.7" cy="731.2" r="5.05"/><circle cx="624.3" cy="735.3" r="5.05"/><circle cx="638.3" cy="737.0" r="5.05"/><circle cx="579.1" cy="737.8" r="5.05"/><circle cx="587.4" cy="738.6" r="5.05"/><circle cx="623.3" cy="741.9" r="5.05"/><circle cx="631.6" cy="745.2" r="5.05"/><circle cx="573.3" cy="743.6" r="5.05"/><circle cx="581.6" cy="744.4" r="5.05"/><circle cx="592.3" cy="745.2" r="5.05"/><circle cx="614.7" cy="746.1" r="5.05"/><circle cx="610.5" cy="750.2" r="5.05"/><circle cx="584.9" cy="750.2" r="5.05"/><circle cx="574.1" cy="751.8" r="5.05"/><circle cx="601.4" cy="755.5" r="5.05"/><circle cx="636.5" cy="756.3" r="5.05"/><circle cx="591.5" cy="758.5" r="5.05"/><circle cx="585.4" cy="763.4" r="5.05"/><circle cx="681.4" cy="755.2" r="5.05"/><circle cx="685.5" cy="760.4" r="5.05"/><circle cx="713.4" cy="750.5" r="5.05"/><circle cx="751.5" cy="764.4" r="5.05"/><circle cx="125.4" cy="681.5" r="5.05"/><circle cx="136.1" cy="709.6" r="5.05"/><circle cx="132.0" cy="718.7" r="5.05"/><circle cx="124.5" cy="722.9" r="5.05"/><circle cx="136.1" cy="728.7" r="5.05"/><circle cx="141.1" cy="737.8" r="5.05"/><circle cx="136.1" cy="742.7" r="5.05"/><circle cx="132.3" cy="757.1" r="5.05"/><circle cx="149.4" cy="731.2" r="5.05"/><circle cx="268.5" cy="691.3" r="5.05"/><circle cx="247.7" cy="697.8" r="5.05"/><circle cx="257.1" cy="694.6" r="5.05"/><circle cx="263.7" cy="695.5" r="5.05"/><circle cx="270.6" cy="695.0" r="5.05"/><circle cx="252.9" cy="702.6" r="5.05"/><circle cx="261.9" cy="700.7" r="5.05"/><circle cx="267.5" cy="702.4" r="5.05"/><circle cx="255.3" cy="709.4" r="5.05"/><circle cx="264.9" cy="709.5" r="5.05"/><circle cx="270.4" cy="707.4" r="5.05"/><circle cx="218.1" cy="715.5" r="5.05"/><circle cx="231.0" cy="715.2" r="5.05"/><circle cx="252.0" cy="713.9" r="5.05"/><circle cx="259.5" cy="713.2" r="5.05"/><circle cx="267.3" cy="712.9" r="5.05"/><circle cx="273.3" cy="716.6" r="5.05"/><circle cx="212.2" cy="721.7" r="5.05"/><circle cx="219.5" cy="721.3" r="5.05"/><circle cx="227.0" cy="720.4" r="5.05"/><circle cx="237.0" cy="720.7" r="5.05"/><circle cx="241.9" cy="721.4" r="5.05"/><circle cx="248.3" cy="719.5" r="5.05"/><circle cx="255.9" cy="719.9" r="5.05"/><circle cx="262.2" cy="722.9" r="5.05"/><circle cx="268.6" cy="722.2" r="5.05"/><circle cx="282.8" cy="720.9" r="5.05"/><circle cx="210.0" cy="728.7" r="5.05"/><circle cx="216.7" cy="725.5" r="5.05"/><circle cx="225.6" cy="728.4" r="5.05"/><circle cx="231.6" cy="725.1" r="5.05"/><circle cx="237.3" cy="726.6" r="5.05"/><circle cx="246.0" cy="725.9" r="5.05"/><circle cx="254.1" cy="728.5" r="5.05"/><circle cx="261.8" cy="728.7" r="5.05"/><circle cx="265.0" cy="727.4" r="5.05"/><circle cx="282.4" cy="728.2" r="5.05"/><circle cx="287.1" cy="725.2" r="5.05"/><circle cx="215.4" cy="731.4" r="5.05"/><circle cx="219.0" cy="733.3" r="5.05"/><circle cx="228.7" cy="731.9" r="5.05"/><circle cx="234.1" cy="731.3" r="5.05"/><circle cx="240.2" cy="733.2" r="5.05"/><circle cx="254.9" cy="731.5" r="5.05"/><circle cx="265.4" cy="733.4" r="5.05"/><circle cx="270.2" cy="734.0" r="5.05"/><circle cx="218.6" cy="741.1" r="5.05"/><circle cx="232.7" cy="741.1" r="5.05"/><circle cx="238.8" cy="741.1" r="5.05"/><circle cx="261.2" cy="737.3" r="5.05"/><circle cx="266.4" cy="739.9" r="5.05"/><circle cx="212.3" cy="745.7" r="5.05"/><circle cx="222.2" cy="744.9" r="5.05"/><circle cx="226.4" cy="743.5" r="5.05"/><circle cx="234.7" cy="745.9" r="5.05"/><circle cx="240.1" cy="746.2" r="5.05"/><circle cx="258.2" cy="745.6" r="5.05"/><circle cx="265.2" cy="745.6" r="5.05"/><circle cx="269.0" cy="744.4" r="5.05"/><circle cx="277.4" cy="746.1" r="5.05"/><circle cx="286.0" cy="746.6" r="5.05"/><circle cx="208.2" cy="753.1" r="5.05"/><circle cx="217.6" cy="753.0" r="5.05"/><circle cx="233.6" cy="751.2" r="5.05"/><circle cx="238.2" cy="749.6" r="5.05"/><circle cx="246.4" cy="752.0" r="5.05"/><circle cx="253.2" cy="753.8" r="5.05"/><circle cx="258.7" cy="750.5" r="5.05"/><circle cx="268.1" cy="753.0" r="5.05"/><circle cx="274.1" cy="749.8" r="5.05"/><circle cx="280.8" cy="753.1" r="5.05"/><circle cx="215.6" cy="756.6" r="5.05"/><circle cx="235.6" cy="756.3" r="5.05"/><circle cx="243.6" cy="756.8" r="5.05"/><circle cx="250.1" cy="757.0" r="5.05"/><circle cx="255.2" cy="756.6" r="5.05"/><circle cx="263.5" cy="758.8" r="5.05"/><circle cx="269.4" cy="758.7" r="5.05"/><circle cx="284.3" cy="756.5" r="5.05"/><circle cx="431.6" cy="682.8" r="5.05"/><circle cx="438.7" cy="684.5" r="5.05"/><circle cx="447.8" cy="682.8" r="5.05"/><circle cx="454.5" cy="683.4" r="5.05"/><circle cx="430.8" cy="686.9" r="5.05"/><circle cx="436.7" cy="690.3" r="5.05"/><circle cx="446.0" cy="688.7" r="5.05"/><circle cx="452.8" cy="688.9" r="5.05"/><circle cx="467.7" cy="689.9" r="5.05"/><circle cx="442.5" cy="696.5" r="5.05"/><circle cx="445.8" cy="694.5" r="5.05"/><circle cx="468.6" cy="696.1" r="5.05"/><circle cx="445.9" cy="701.4" r="5.05"/><circle cx="450.8" cy="702.7" r="5.05"/><circle cx="458.5" cy="699.9" r="5.05"/><circle cx="464.6" cy="699.7" r="5.05"/><circle cx="474.2" cy="701.2" r="5.05"/><circle cx="480.7" cy="702.6" r="5.05"/><circle cx="438.8" cy="706.0" r="5.05"/><circle cx="447.8" cy="709.2" r="5.05"/><circle cx="478.2" cy="708.3" r="5.05"/><circle cx="485.1" cy="708.7" r="5.05"/><circle cx="435.5" cy="712.4" r="5.05"/><circle cx="443.4" cy="712.0" r="5.05"/><circle cx="449.4" cy="715.6" r="5.05"/><circle cx="479.1" cy="713.0" r="5.05"/><circle cx="488.7" cy="713.9" r="5.05"/><circle cx="493.9" cy="714.1" r="5.05"/><circle cx="499.2" cy="714.3" r="5.05"/><circle cx="434.4" cy="721.5" r="5.05"/><circle cx="440.0" cy="719.2" r="5.05"/><circle cx="448.0" cy="718.3" r="5.05"/><circle cx="454.5" cy="721.5" r="5.05"/><circle cx="462.3" cy="721.1" r="5.05"/><circle cx="468.1" cy="721.3" r="5.05"/><circle cx="490.8" cy="720.1" r="5.05"/><circle cx="496.5" cy="719.9" r="5.05"/><circle cx="504.1" cy="721.0" r="5.05"/><circle cx="451.4" cy="724.4" r="5.05"/><circle cx="456.7" cy="725.3" r="5.05"/><circle cx="465.5" cy="724.5" r="5.05"/><circle cx="470.9" cy="725.9" r="5.05"/><circle cx="478.8" cy="725.6" r="5.05"/><circle cx="494.4" cy="724.7" r="5.05"/><circle cx="499.8" cy="727.4" r="5.05"/><circle cx="506.3" cy="724.2" r="5.05"/><circle cx="513.5" cy="727.3" r="5.05"/><circle cx="435.4" cy="732.1" r="5.05"/><circle cx="448.0" cy="730.5" r="5.05"/><circle cx="456.9" cy="733.8" r="5.05"/><circle cx="461.8" cy="731.5" r="5.05"/><circle cx="477.8" cy="731.5" r="5.05"/><circle cx="482.5" cy="732.5" r="5.05"/><circle cx="491.7" cy="730.6" r="5.05"/><circle cx="496.7" cy="732.6" r="5.05"/><circle cx="502.7" cy="733.4" r="5.05"/><circle cx="511.0" cy="733.4" r="5.05"/><circle cx="438.8" cy="737.2" r="5.05"/><circle cx="445.9" cy="739.2" r="5.05"/><circle cx="449.2" cy="739.9" r="5.05"/><circle cx="459.8" cy="738.3" r="5.05"/><circle cx="479.0" cy="739.7" r="5.05"/><circle cx="488.3" cy="736.5" r="5.05"/><circle cx="493.4" cy="736.5" r="5.05"/><circle cx="507.9" cy="736.7" r="5.05"/><circle cx="516.1" cy="737.1" r="5.05"/><circle cx="432.7" cy="743.9" r="5.05"/><circle cx="442.4" cy="743.0" r="5.05"/><circle cx="446.5" cy="742.9" r="5.05"/><circle cx="453.8" cy="746.3" r="5.05"/><circle cx="463.9" cy="743.2" r="5.05"/><circle cx="467.2" cy="744.3" r="5.05"/><circle cx="488.3" cy="745.3" r="5.05"/><circle cx="511.9" cy="742.8" r="5.05"/><circle cx="519.0" cy="743.2" r="5.05"/><circle cx="430.3" cy="748.5" r="5.05"/><circle cx="436.3" cy="751.8" r="5.05"/><circle cx="443.7" cy="748.8" r="5.05"/><circle cx="456.7" cy="748.8" r="5.05"/><circle cx="465.6" cy="752.1" r="5.05"/><circle cx="472.2" cy="749.4" r="5.05"/><circle cx="486.0" cy="750.9" r="5.05"/><circle cx="507.7" cy="748.9" r="5.05"/><circle cx="514.4" cy="751.6" r="5.05"/><circle cx="461.4" cy="756.6" r="5.05"/><circle cx="469.1" cy="757.5" r="5.05"/><circle cx="478.1" cy="758.0" r="5.05"/><circle cx="483.6" cy="757.4" r="5.05"/><circle cx="498.0" cy="757.1" r="5.05"/></g>
<g fill="#ff0000"><circle cx="116.4" cy="125.8" r="5.05"/><circle cx="108.5" cy="137.1" r="5.05"/><circle cx="105.2" cy="140.4" r="5.05"/><circle cx="102.2" cy="153.9" r="5.05"/><circle cx="118.4" cy="161.9" r="5.05"/><circle cx="121.7" cy="166.9" r="5.05"/><circle cx="108.5" cy="169.2" r="5.05"/><circle cx="130.3" cy="177.1" r="5.05"/><circle cx="106.5" cy="180.8" r="5.05"/><circle cx="113.8" cy="181.4" r="5.05"/><circle cx="161.4" cy="190.0" r="5.05"/><circle cx="107.5" cy="189.4" r="5.05"/><circle cx="119.1" cy="192.7" r="5.05"/><circle cx="135.3" cy="196.3" r="5.05"/><circle cx="102.5" cy="198.3" r="5.05"/><circle cx="112.1" cy="198.3" r="5.05"/><circle cx="119.7" cy="199.3" r="5.05"/><circle cx="126.3" cy="203.6" r="5.05"/><circle cx="113.1" cy="205.9" r="5.05"/><circle cx="98.2" cy="210.2" r="5.05"/><circle cx="101.8" cy="216.5" r="5.05"/><circle cx="114.8" cy="215.8" r="5.05"/><circle cx="178.3" cy="224.1" r="5.05"/><circle cx="100.5" cy="229.1" r="5.05"/><circle cx="114.8" cy="227.4" r="5.05"/><circle cx="123.0" cy="228.4" r="5.05"/><circle cx="104.8" cy="234.0" r="5.05"/><circle cx="113.1" cy="234.0" r="5.05"/><circle cx="143.5" cy="233.4" r="5.05"/><circle cx="135.6" cy="236.4" r="5.05"/><circle cx="162.1" cy="235.7" r="5.05"/><circle cx="99.9" cy="236.4" r="5.05"/><circle cx="156.8" cy="238.3" r="5.05"/><circle cx="106.5" cy="240.7" r="5.05"/><circle cx="159.4" cy="244.6" r="5.05"/><circle cx="122.4" cy="244.0" r="5.05"/><circle cx="129.6" cy="245.6" r="5.05"/><circle cx="136.9" cy="245.6" r="5.05"/><circle cx="177.0" cy="247.0" r="5.05"/><circle cx="113.1" cy="248.9" r="5.05"/><circle cx="144.5" cy="250.6" r="5.05"/><circle cx="150.5" cy="252.2" r="5.05"/><circle cx="103.8" cy="253.2" r="5.05"/><circle cx="113.8" cy="254.6" r="5.05"/><circle cx="213.0" cy="253.9" r="5.05"/><circle cx="133.0" cy="253.9" r="5.05"/><circle cx="100.5" cy="260.5" r="5.05"/><circle cx="123.0" cy="261.2" r="5.05"/><circle cx="130.3" cy="262.2" r="5.05"/><circle cx="138.9" cy="262.2" r="5.05"/><circle cx="108.1" cy="265.5" r="5.05"/><circle cx="146.2" cy="267.1" r="5.05"/><circle cx="165.1" cy="270.1" r="5.05"/><circle cx="190.2" cy="271.1" r="5.05"/><circle cx="157.8" cy="273.4" r="5.05"/><circle cx="131.3" cy="272.1" r="5.05"/><circle cx="104.8" cy="273.8" r="5.05"/><circle cx="113.1" cy="275.4" r="5.05"/><circle cx="101.5" cy="278.7" r="5.05"/><circle cx="119.1" cy="281.4" r="5.05"/><circle cx="156.1" cy="281.0" r="5.05"/><circle cx="142.2" cy="281.7" r="5.05"/><circle cx="159.4" cy="282.7" r="5.05"/><circle cx="146.2" cy="285.3" r="5.05"/><circle cx="113.1" cy="285.3" r="5.05"/><circle cx="136.9" cy="291.3" r="5.05"/><circle cx="124.7" cy="293.6" r="5.05"/><circle cx="129.6" cy="295.3" r="5.05"/><circle cx="113.1" cy="293.0" r="5.05"/><circle cx="152.2" cy="297.9" r="5.05"/><circle cx="188.6" cy="298.9" r="5.05"/><circle cx="179.3" cy="300.9" r="5.05"/><circle cx="226.6" cy="298.9" r="5.05"/><circle cx="231.3" cy="300.2" r="5.05"/><circle cx="119.7" cy="298.6" r="5.05"/><circle cx="128.0" cy="300.2" r="5.05"/><circle cx="113.1" cy="301.9" r="5.05"/><circle cx="158.8" cy="305.2" r="5.05"/><circle cx="156.1" cy="310.2" r="5.05"/><circle cx="170.4" cy="309.8" r="5.05"/><circle cx="101.5" cy="309.2" r="5.05"/><circle cx="123.0" cy="306.9" r="5.05"/><circle cx="131.3" cy="306.9" r="5.05"/><circle cx="109.8" cy="311.8" r="5.05"/><circle cx="116.4" cy="313.5" r="5.05"/><circle cx="239.9" cy="313.1" r="5.05"/><circle cx="133.0" cy="316.8" r="5.05"/><circle cx="139.6" cy="317.4" r="5.05"/><circle cx="106.5" cy="320.1" r="5.05"/><circle cx="98.2" cy="322.4" r="5.05"/><circle cx="126.3" cy="322.4" r="5.05"/><circle cx="174.3" cy="323.4" r="5.05"/><circle cx="156.1" cy="327.0" r="5.05"/><circle cx="159.4" cy="327.0" r="5.05"/><circle cx="186.9" cy="326.4" r="5.05"/><circle cx="206.1" cy="328.0" r="5.05"/><circle cx="131.3" cy="326.7" r="5.05"/><circle cx="137.9" cy="328.4" r="5.05"/><circle cx="113.1" cy="328.4" r="5.05"/><circle cx="119.7" cy="328.4" r="5.05"/><circle cx="99.9" cy="331.7" r="5.05"/><circle cx="108.1" cy="333.3" r="5.05"/><circle cx="144.5" cy="335.7" r="5.05"/><circle cx="194.8" cy="336.0" r="5.05"/><circle cx="121.4" cy="336.6" r="5.05"/><circle cx="133.0" cy="338.3" r="5.05"/><circle cx="104.8" cy="340.0" r="5.05"/><circle cx="111.4" cy="343.3" r="5.05"/><circle cx="123.0" cy="344.9" r="5.05"/><circle cx="137.9" cy="344.9" r="5.05"/><circle cx="160.4" cy="348.9" r="5.05"/><circle cx="226.6" cy="350.2" r="5.05"/><circle cx="144.5" cy="349.9" r="5.05"/><circle cx="101.5" cy="348.2" r="5.05"/><circle cx="109.8" cy="351.5" r="5.05"/><circle cx="178.3" cy="353.2" r="5.05"/><circle cx="119.7" cy="353.2" r="5.05"/><circle cx="129.6" cy="353.2" r="5.05"/><circle cx="103.2" cy="354.8" r="5.05"/><circle cx="255.4" cy="356.8" r="5.05"/><circle cx="249.8" cy="359.1" r="5.05"/><circle cx="191.5" cy="360.5" r="5.05"/><circle cx="238.9" cy="362.5" r="5.05"/><circle cx="144.5" cy="361.5" r="5.05"/><circle cx="179.3" cy="361.5" r="5.05"/><circle cx="98.2" cy="365.8" r="5.05"/><circle cx="113.1" cy="364.8" r="5.05"/><circle cx="121.4" cy="364.8" r="5.05"/><circle cx="149.5" cy="366.4" r="5.05"/><circle cx="156.8" cy="365.8" r="5.05"/><circle cx="139.6" cy="368.1" r="5.05"/><circle cx="108.1" cy="369.7" r="5.05"/><circle cx="182.6" cy="368.7" r="5.05"/><circle cx="189.2" cy="370.7" r="5.05"/><circle cx="170.0" cy="370.7" r="5.05"/><circle cx="162.7" cy="372.1" r="5.05"/><circle cx="129.6" cy="373.0" r="5.05"/><circle cx="99.9" cy="373.0" r="5.05"/><circle cx="116.4" cy="373.0" r="5.05"/><circle cx="202.5" cy="375.4" r="5.05"/><circle cx="218.3" cy="374.7" r="5.05"/><circle cx="147.8" cy="374.7" r="5.05"/><circle cx="229.9" cy="379.7" r="5.05"/><circle cx="245.5" cy="378.7" r="5.05"/><circle cx="177.6" cy="376.4" r="5.05"/><circle cx="153.3" cy="388.3" r="5.05"/><circle cx="163.2" cy="388.3" r="5.05"/><circle cx="171.5" cy="383.3" r="5.05"/><circle cx="181.4" cy="382.5" r="5.05"/><circle cx="192.5" cy="387.0" r="5.05"/><circle cx="219.5" cy="387.0" r="5.05"/><circle cx="227.8" cy="387.4" r="5.05"/><circle cx="203.0" cy="380.0" r="5.05"/><circle cx="178.1" cy="393.2" r="5.05"/><circle cx="168.5" cy="397.4" r="5.05"/><circle cx="177.3" cy="401.5" r="5.05"/><circle cx="229.4" cy="400.2" r="5.05"/><circle cx="260.5" cy="397.9" r="5.05"/><circle cx="264.5" cy="410.9" r="5.05"/><circle cx="158.3" cy="408.1" r="5.05"/><circle cx="164.1" cy="409.8" r="5.05"/><circle cx="190.5" cy="409.3" r="5.05"/><circle cx="184.3" cy="412.3" r="5.05"/><circle cx="154.1" cy="415.6" r="5.05"/><circle cx="161.6" cy="416.4" r="5.05"/><circle cx="171.5" cy="415.6" r="5.05"/><circle cx="212.6" cy="418.4" r="5.05"/><circle cx="165.7" cy="423.9" r="5.05"/><circle cx="156.6" cy="424.7" r="5.05"/><circle cx="177.3" cy="427.2" r="5.05"/><circle cx="250.4" cy="425.2" r="5.05"/><circle cx="218.2" cy="431.3" r="5.05"/><circle cx="228.1" cy="431.6" r="5.05"/><circle cx="227.8" cy="437.1" r="5.05"/><circle cx="277.4" cy="435.1" r="5.05"/><circle cx="171.5" cy="433.0" r="5.05"/><circle cx="198.8" cy="435.9" r="5.05"/><circle cx="207.1" cy="438.7" r="5.05"/><circle cx="180.6" cy="438.7" r="5.05"/><circle cx="183.9" cy="442.9" r="5.05"/><circle cx="159.9" cy="439.6" r="5.05"/><circle cx="166.5" cy="440.4" r="5.05"/><circle cx="153.3" cy="442.1" r="5.05"/><circle cx="201.3" cy="445.4" r="5.05"/><circle cx="212.4" cy="444.2" r="5.05"/><circle cx="223.6" cy="449.2" r="5.05"/><circle cx="174.8" cy="446.2" r="5.05"/><circle cx="181.4" cy="449.5" r="5.05"/><circle cx="152.5" cy="446.2" r="5.05"/><circle cx="247.6" cy="449.2" r="5.05"/><circle cx="240.7" cy="451.5" r="5.05"/><circle cx="260.4" cy="450.5" r="5.05"/><circle cx="154.1" cy="455.3" r="5.05"/><circle cx="179.8" cy="457.0" r="5.05"/><circle cx="185.6" cy="457.8" r="5.05"/><circle cx="169.9" cy="461.9" r="5.05"/><circle cx="194.3" cy="461.4" r="5.05"/><circle cx="223.3" cy="460.3" r="5.05"/><circle cx="203.0" cy="464.4" r="5.05"/><circle cx="216.2" cy="465.2" r="5.05"/><circle cx="155.0" cy="465.2" r="5.05"/><circle cx="153.3" cy="472.7" r="5.05"/><circle cx="171.5" cy="471.0" r="5.05"/><circle cx="179.8" cy="471.0" r="5.05"/><circle cx="192.2" cy="472.7" r="5.05"/><circle cx="201.3" cy="471.5" r="5.05"/><circle cx="210.4" cy="476.0" r="5.05"/><circle cx="235.6" cy="473.0" r="5.05"/><circle cx="267.5" cy="474.3" r="5.05"/><circle cx="169.0" cy="476.0" r="5.05"/><circle cx="177.3" cy="478.5" r="5.05"/><circle cx="191.4" cy="476.8" r="5.05"/><circle cx="171.5" cy="482.6" r="5.05"/><circle cx="229.4" cy="482.3" r="5.05"/><circle cx="198.0" cy="486.7" r="5.05"/><circle cx="159.1" cy="489.2" r="5.05"/><circle cx="284.4" cy="488.4" r="5.05"/><circle cx="193.9" cy="492.5" r="5.05"/><circle cx="204.6" cy="494.2" r="5.05"/><circle cx="222.5" cy="494.2" r="5.05"/><circle cx="164.1" cy="494.2" r="5.05"/><circle cx="174.8" cy="495.8" r="5.05"/><circle cx="168.2" cy="499.1" r="5.05"/><circle cx="153.3" cy="498.3" r="5.05"/><circle cx="233.6" cy="498.8" r="5.05"/><circle cx="254.6" cy="499.1" r="5.05"/><circle cx="164.1" cy="503.3" r="5.05"/><circle cx="174.8" cy="503.3" r="5.05"/><circle cx="154.1" cy="503.3" r="5.05"/><circle cx="213.7" cy="506.6" r="5.05"/><circle cx="248.5" cy="509.9" r="5.05"/><circle cx="253.4" cy="509.1" r="5.05"/><circle cx="278.3" cy="508.3" r="5.05"/><circle cx="156.6" cy="512.4" r="5.05"/><circle cx="178.1" cy="514.9" r="5.05"/><circle cx="206.3" cy="514.9" r="5.05"/><circle cx="228.6" cy="513.2" r="5.05"/><circle cx="191.4" cy="518.2" r="5.05"/><circle cx="219.5" cy="519.0" r="5.05"/><circle cx="242.7" cy="519.0" r="5.05"/><circle cx="267.5" cy="517.4" r="5.05"/><circle cx="152.5" cy="518.2" r="5.05"/><circle cx="307.4" cy="427.5" r="5.05"/><circle cx="344.3" cy="448.3" r="5.05"/><circle cx="313.7" cy="451.5" r="5.05"/><circle cx="309.5" cy="466.4" r="5.05"/><circle cx="313.5" cy="475.5" r="5.05"/><circle cx="303.2" cy="490.0" r="5.05"/><circle cx="308.2" cy="494.2" r="5.05"/><circle cx="320.6" cy="494.2" r="5.05"/><circle cx="425.4" cy="497.5" r="5.05"/><circle cx="294.1" cy="518.2" r="5.05"/><circle cx="351.6" cy="518.7" r="5.05"/><circle cx="160.8" cy="522.5" r="5.05"/><circle cx="166.5" cy="523.3" r="5.05"/><circle cx="179.0" cy="526.6" r="5.05"/><circle cx="204.6" cy="520.0" r="5.05"/><circle cx="250.6" cy="525.8" r="5.05"/><circle cx="152.5" cy="528.3" r="5.05"/><circle cx="171.5" cy="530.8" r="5.05"/><circle cx="189.2" cy="529.9" r="5.05"/><circle cx="195.5" cy="530.8" r="5.05"/><circle cx="203.0" cy="531.3" r="5.05"/><circle cx="225.6" cy="529.9" r="5.05"/><circle cx="231.1" cy="533.2" r="5.05"/><circle cx="243.5" cy="533.2" r="5.05"/><circle cx="156.6" cy="537.4" r="5.05"/><circle cx="190.5" cy="540.7" r="5.05"/><circle cx="177.0" cy="544.0" r="5.05"/><circle cx="205.8" cy="544.0" r="5.05"/><circle cx="211.6" cy="545.3" r="5.05"/><circle cx="258.4" cy="539.0" r="5.05"/><circle cx="248.5" cy="544.0" r="5.05"/><circle cx="161.6" cy="548.1" r="5.05"/><circle cx="198.0" cy="547.3" r="5.05"/><circle cx="202.1" cy="551.4" r="5.05"/><circle cx="189.7" cy="550.6" r="5.05"/><circle cx="152.5" cy="548.1" r="5.05"/><circle cx="278.3" cy="553.9" r="5.05"/><circle cx="219.5" cy="557.2" r="5.05"/><circle cx="163.2" cy="558.1" r="5.05"/><circle cx="182.3" cy="559.7" r="5.05"/><circle cx="194.7" cy="557.2" r="5.05"/><circle cx="198.0" cy="560.5" r="5.05"/><circle cx="237.7" cy="559.4" r="5.05"/><circle cx="241.0" cy="562.7" r="5.05"/><circle cx="222.8" cy="563.0" r="5.05"/><circle cx="168.2" cy="563.9" r="5.05"/><circle cx="273.3" cy="564.7" r="5.05"/><circle cx="154.1" cy="555.6" r="5.05"/><circle cx="157.4" cy="568.0" r="5.05"/><circle cx="180.6" cy="568.8" r="5.05"/><circle cx="187.2" cy="571.3" r="5.05"/><circle cx="226.5" cy="569.6" r="5.05"/><circle cx="226.1" cy="573.8" r="5.05"/><circle cx="206.3" cy="575.1" r="5.05"/><circle cx="164.9" cy="577.1" r="5.05"/><circle cx="152.5" cy="573.8" r="5.05"/><circle cx="159.1" cy="575.4" r="5.05"/><circle cx="264.2" cy="578.7" r="5.05"/><circle cx="254.6" cy="582.1" r="5.05"/><circle cx="211.2" cy="582.9" r="5.05"/><circle cx="214.9" cy="586.7" r="5.05"/><circle cx="236.4" cy="585.4" r="5.05"/><circle cx="183.1" cy="586.2" r="5.05"/><circle cx="175.7" cy="587.8" r="5.05"/><circle cx="166.5" cy="587.8" r="5.05"/><circle cx="271.6" cy="589.5" r="5.05"/><circle cx="275.8" cy="592.3" r="5.05"/><circle cx="154.1" cy="586.2" r="5.05"/><circle cx="180.6" cy="597.8" r="5.05"/><circle cx="192.2" cy="595.3" r="5.05"/><circle cx="204.1" cy="593.6" r="5.05"/><circle cx="163.2" cy="597.8" r="5.05"/><circle cx="171.5" cy="595.3" r="5.05"/><circle cx="154.1" cy="594.5" r="5.05"/><circle cx="224.0" cy="599.4" r="5.05"/><circle cx="232.7" cy="600.3" r="5.05"/><circle cx="237.4" cy="596.1" r="5.05"/><circle cx="256.7" cy="597.4" r="5.05"/><circle cx="261.7" cy="601.1" r="5.05"/><circle cx="200.5" cy="601.1" r="5.05"/><circle cx="208.7" cy="601.9" r="5.05"/><circle cx="162.4" cy="602.7" r="5.05"/><circle cx="171.5" cy="604.4" r="5.05"/><circle cx="153.3" cy="601.1" r="5.05"/><circle cx="201.3" cy="606.1" r="5.05"/><circle cx="207.1" cy="606.1" r="5.05"/><circle cx="189.4" cy="607.7" r="5.05"/><circle cx="265.8" cy="605.2" r="5.05"/><circle cx="215.4" cy="610.2" r="5.05"/><circle cx="165.7" cy="611.0" r="5.05"/><circle cx="173.2" cy="609.4" r="5.05"/><circle cx="154.1" cy="609.4" r="5.05"/><circle cx="246.0" cy="616.0" r="5.05"/><circle cx="263.4" cy="615.2" r="5.05"/><circle cx="181.4" cy="615.2" r="5.05"/><circle cx="193.9" cy="616.0" r="5.05"/><circle cx="203.8" cy="618.5" r="5.05"/><circle cx="198.0" cy="620.9" r="5.05"/><circle cx="172.3" cy="620.1" r="5.05"/><circle cx="183.9" cy="623.4" r="5.05"/><circle cx="159.9" cy="620.1" r="5.05"/><circle cx="153.3" cy="619.3" r="5.05"/><circle cx="220.3" cy="624.8" r="5.05"/><circle cx="272.5" cy="625.9" r="5.05"/><circle cx="242.7" cy="627.6" r="5.05"/><circle cx="171.5" cy="635.0" r="5.05"/><circle cx="168.2" cy="638.3" r="5.05"/><circle cx="210.4" cy="635.8" r="5.05"/><circle cx="192.7" cy="638.0" r="5.05"/><circle cx="230.3" cy="635.8" r="5.05"/><circle cx="288.2" cy="636.7" r="5.05"/><circle cx="272.5" cy="638.3" r="5.05"/><circle cx="204.3" cy="644.1" r="5.05"/><circle cx="165.7" cy="644.1" r="5.05"/><circle cx="246.0" cy="641.6" r="5.05"/><circle cx="249.3" cy="644.1" r="5.05"/><circle cx="269.1" cy="643.3" r="5.05"/><circle cx="259.2" cy="644.1" r="5.05"/><circle cx="154.1" cy="647.4" r="5.05"/><circle cx="177.3" cy="649.1" r="5.05"/><circle cx="215.4" cy="644.1" r="5.05"/><circle cx="186.4" cy="652.4" r="5.05"/><circle cx="219.5" cy="652.4" r="5.05"/><circle cx="229.4" cy="652.4" r="5.05"/><circle cx="283.2" cy="656.5" r="5.05"/><circle cx="159.1" cy="654.0" r="5.05"/><circle cx="201.3" cy="655.7" r="5.05"/><circle cx="250.1" cy="656.5" r="5.05"/><circle cx="152.5" cy="657.4" r="5.05"/><circle cx="225.3" cy="658.2" r="5.05"/><circle cx="367.4" cy="524.1" r="5.05"/><circle cx="344.3" cy="532.1" r="5.05"/><circle cx="333.4" cy="547.3" r="5.05"/><circle cx="297.4" cy="559.4" r="5.05"/><circle cx="292.5" cy="564.7" r="5.05"/><circle cx="352.4" cy="588.3" r="5.05"/><circle cx="365.3" cy="593.3" r="5.05"/><circle cx="302.4" cy="596.1" r="5.05"/><circle cx="399.6" cy="605.2" r="5.05"/><circle cx="366.5" cy="611.5" r="5.05"/><circle cx="306.5" cy="612.2" r="5.05"/><circle cx="380.7" cy="616.5" r="5.05"/><circle cx="387.6" cy="619.3" r="5.05"/><circle cx="325.2" cy="616.0" r="5.05"/><circle cx="290.8" cy="616.8" r="5.05"/><circle cx="348.3" cy="627.2" r="5.05"/><circle cx="322.3" cy="633.4" r="5.05"/><circle cx="350.4" cy="645.4" r="5.05"/><circle cx="449.5" cy="520.0" r="5.05"/><circle cx="159.1" cy="663.3" r="5.05"/><circle cx="172.3" cy="669.9" r="5.05"/><circle cx="168.2" cy="674.1" r="5.05"/><circle cx="185.6" cy="667.4" r="5.05"/><circle cx="194.7" cy="662.5" r="5.05"/><circle cx="204.6" cy="660.0" r="5.05"/><circle cx="195.5" cy="672.4" r="5.05"/><circle cx="209.6" cy="674.9" r="5.05"/><circle cx="182.3" cy="681.5" r="5.05"/><circle cx="193.9" cy="678.2" r="5.05"/><circle cx="195.5" cy="684.8" r="5.05"/><circle cx="194.3" cy="693.1" r="5.05"/><circle cx="179.8" cy="695.2" r="5.05"/><circle cx="191.4" cy="701.4" r="5.05"/><circle cx="174.8" cy="710.1" r="5.05"/><circle cx="202.6" cy="712.1" r="5.05"/><circle cx="150.8" cy="689.0" r="5.05"/><circle cx="150.8" cy="702.2" r="5.05"/><circle cx="248.5" cy="663.3" r="5.05"/><circle cx="236.4" cy="676.1" r="5.05"/><circle cx="250.4" cy="679.9" r="5.05"/><circle cx="281.6" cy="710.1" r="5.05"/><circle cx="255.4" cy="716.3" r="5.05"/><circle cx="226.5" cy="724.2" r="5.05"/><circle cx="248.5" cy="751.0" r="5.05"/><circle cx="151.7" cy="742.7" r="5.05"/><circle cx="156.6" cy="747.7" r="5.05"/><circle cx="306.5" cy="665.0" r="5.05"/><circle cx="292.5" cy="675.2" r="5.05"/><circle cx="332.5" cy="675.4" r="5.05"/><circle cx="398.4" cy="686.5" r="5.05"/><circle cx="420.7" cy="696.4" r="5.05"/><circle cx="301.3" cy="707.5" r="5.05"/><circle cx="331.4" cy="742.2" r="5.05"/><circle cx="99.7" cy="668.3" r="5.05"/><circle cx="102.2" cy="676.5" r="5.05"/><circle cx="108.0" cy="662.5" r="5.05"/><circle cx="116.3" cy="663.3" r="5.05"/><circle cx="121.2" cy="666.6" r="5.05"/><circle cx="113.8" cy="671.6" r="5.05"/><circle cx="120.4" cy="675.7" r="5.05"/><circle cx="117.1" cy="684.8" r="5.05"/><circle cx="123.7" cy="690.6" r="5.05"/><circle cx="129.5" cy="698.1" r="5.05"/><circle cx="134.5" cy="669.1" r="5.05"/><circle cx="139.4" cy="674.1" r="5.05"/><circle cx="146.1" cy="667.4" r="5.05"/><circle cx="149.4" cy="661.7" r="5.05"/><circle cx="136.1" cy="661.7" r="5.05"/><circle cx="134.5" cy="685.7" r="5.05"/><circle cx="141.1" cy="684.8" r="5.05"/><circle cx="137.0" cy="691.4" r="5.05"/><circle cx="141.1" cy="695.6" r="5.05"/><circle cx="137.0" cy="700.5" r="5.05"/><circle cx="122.6" cy="708.5" r="5.05"/><circle cx="147.2" cy="712.1" r="5.05"/><circle cx="122.6" cy="718.3" r="5.05"/><circle cx="142.4" cy="728.2" r="5.05"/><circle cx="108.5" cy="730.3" r="5.05"/><circle cx="117.6" cy="750.5" r="5.05"/><circle cx="95.6" cy="660.0" r="5.05"/><circle cx="104.7" cy="660.0" r="5.05"/><circle cx="101.2" cy="384.3" r="5.05"/><circle cx="110.4" cy="383.8" r="5.05"/><circle cx="114.5" cy="384.5" r="5.05"/><circle cx="119.2" cy="384.1" r="5.05"/><circle cx="128.2" cy="385.6" r="5.05"/><circle cx="131.7" cy="382.9" r="5.05"/><circle cx="138.2" cy="385.7" r="5.05"/><circle cx="148.1" cy="381.4" r="5.05"/><circle cx="107.5" cy="392.2" r="5.05"/><circle cx="112.1" cy="390.3" r="5.05"/><circle cx="115.8" cy="386.9" r="5.05"/><circle cx="124.4" cy="387.2" r="5.05"/><circle cx="129.0" cy="388.2" r="5.05"/><circle cx="134.6" cy="389.4" r="5.05"/><circle cx="143.4" cy="391.5" r="5.05"/><circle cx="101.5" cy="396.2" r="5.05"/><circle cx="107.8" cy="394.0" r="5.05"/><circle cx="117.3" cy="398.0" r="5.05"/><circle cx="122.9" cy="396.4" r="5.05"/><circle cx="126.5" cy="393.7" r="5.05"/><circle cx="132.8" cy="392.9" r="5.05"/><circle cx="142.0" cy="394.7" r="5.05"/><circle cx="148.9" cy="394.6" r="5.05"/><circle cx="107.3" cy="402.8" r="5.05"/><circle cx="108.5" cy="399.3" r="5.05"/><circle cx="120.0" cy="400.7" r="5.05"/><circle cx="126.9" cy="400.3" r="5.05"/><circle cx="128.4" cy="401.6" r="5.05"/><circle cx="138.8" cy="399.6" r="5.05"/><circle cx="141.4" cy="399.9" r="5.05"/><circle cx="99.4" cy="405.1" r="5.05"/><circle cx="105.8" cy="404.1" r="5.05"/><circle cx="116.2" cy="404.7" r="5.05"/><circle cx="125.8" cy="407.8" r="5.05"/><circle cx="131.9" cy="407.3" r="5.05"/><circle cx="138.4" cy="406.1" r="5.05"/><circle cx="145.4" cy="405.2" r="5.05"/><circle cx="107.4" cy="413.8" r="5.05"/><circle cx="110.2" cy="414.3" r="5.05"/><circle cx="126.2" cy="412.9" r="5.05"/><circle cx="128.5" cy="414.9" r="5.05"/><circle cx="135.6" cy="410.8" r="5.05"/><circle cx="145.3" cy="411.2" r="5.05"/><circle cx="149.1" cy="409.8" r="5.05"/><circle cx="99.2" cy="418.2" r="5.05"/><circle cx="106.6" cy="418.3" r="5.05"/><circle cx="113.8" cy="417.5" r="5.05"/><circle cx="123.6" cy="417.7" r="5.05"/><circle cx="127.9" cy="419.8" r="5.05"/><circle cx="132.2" cy="415.8" r="5.05"/><circle cx="142.8" cy="419.6" r="5.05"/><circle cx="145.6" cy="416.0" r="5.05"/><circle cx="106.1" cy="425.9" r="5.05"/><circle cx="109.6" cy="425.9" r="5.05"/><circle cx="119.9" cy="424.0" r="5.05"/><circle cx="123.8" cy="421.2" r="5.05"/><circle cx="135.8" cy="424.5" r="5.05"/><circle cx="142.4" cy="425.2" r="5.05"/><circle cx="150.8" cy="422.2" r="5.05"/><circle cx="99.7" cy="430.3" r="5.05"/><circle cx="105.6" cy="427.5" r="5.05"/><circle cx="114.8" cy="431.0" r="5.05"/><circle cx="131.3" cy="427.7" r="5.05"/><circle cx="140.2" cy="426.6" r="5.05"/><circle cx="145.2" cy="428.3" r="5.05"/><circle cx="110.5" cy="436.9" r="5.05"/><circle cx="120.4" cy="435.5" r="5.05"/><circle cx="144.9" cy="437.3" r="5.05"/><circle cx="147.6" cy="435.4" r="5.05"/><circle cx="101.4" cy="441.6" r="5.05"/><circle cx="107.0" cy="443.1" r="5.05"/><circle cx="112.1" cy="440.5" r="5.05"/><circle cx="122.3" cy="442.5" r="5.05"/><circle cx="128.8" cy="441.4" r="5.05"/><circle cx="135.6" cy="442.6" r="5.05"/><circle cx="139.7" cy="441.3" r="5.05"/><circle cx="149.2" cy="442.4" r="5.05"/><circle cx="104.3" cy="447.5" r="5.05"/><circle cx="113.3" cy="446.3" r="5.05"/><circle cx="118.4" cy="445.3" r="5.05"/><circle cx="140.0" cy="448.0" r="5.05"/><circle cx="145.0" cy="445.3" r="5.05"/><circle cx="101.2" cy="453.4" r="5.05"/><circle cx="105.7" cy="452.9" r="5.05"/><circle cx="111.9" cy="452.1" r="5.05"/><circle cx="134.6" cy="453.9" r="5.05"/><circle cx="139.1" cy="448.8" r="5.05"/><circle cx="145.9" cy="452.5" r="5.05"/><circle cx="103.1" cy="455.3" r="5.05"/><circle cx="113.5" cy="458.1" r="5.05"/><circle cx="117.4" cy="459.4" r="5.05"/><circle cx="123.3" cy="458.1" r="5.05"/><circle cx="129.1" cy="456.8" r="5.05"/><circle cx="139.0" cy="459.5" r="5.05"/><circle cx="145.9" cy="456.5" r="5.05"/><circle cx="99.5" cy="462.8" r="5.05"/><circle cx="115.7" cy="465.3" r="5.05"/><circle cx="127.2" cy="461.5" r="5.05"/><circle cx="141.2" cy="462.8" r="5.05"/><circle cx="146.0" cy="464.7" r="5.05"/><circle cx="129.7" cy="470.1" r="5.05"/><circle cx="143.5" cy="465.8" r="5.05"/><circle cx="99.5" cy="471.5" r="5.05"/><circle cx="108.7" cy="473.8" r="5.05"/><circle cx="115.2" cy="474.9" r="5.05"/><circle cx="122.7" cy="476.6" r="5.05"/><circle cx="128.5" cy="472.4" r="5.05"/><circle cx="133.9" cy="472.3" r="5.05"/><circle cx="137.8" cy="473.9" r="5.05"/><circle cx="148.2" cy="472.3" r="5.05"/><circle cx="103.5" cy="478.8" r="5.05"/><circle cx="112.4" cy="479.8" r="5.05"/><circle cx="118.4" cy="481.1" r="5.05"/><circle cx="123.7" cy="481.3" r="5.05"/><circle cx="133.0" cy="477.4" r="5.05"/><circle cx="139.7" cy="480.9" r="5.05"/><circle cx="141.7" cy="479.4" r="5.05"/><circle cx="151.0" cy="482.0" r="5.05"/><circle cx="100.8" cy="485.7" r="5.05"/><circle cx="110.1" cy="487.0" r="5.05"/><circle cx="117.0" cy="485.1" r="5.05"/><circle cx="121.8" cy="483.7" r="5.05"/><circle cx="128.7" cy="487.1" r="5.05"/><circle cx="134.8" cy="486.5" r="5.05"/><circle cx="138.9" cy="487.6" r="5.05"/><circle cx="149.7" cy="488.0" r="5.05"/><circle cx="105.0" cy="492.6" r="5.05"/><circle cx="110.2" cy="493.2" r="5.05"/><circle cx="119.7" cy="490.1" r="5.05"/><circle cx="121.9" cy="490.6" r="5.05"/><circle cx="131.0" cy="492.5" r="5.05"/><circle cx="137.2" cy="488.3" r="5.05"/><circle cx="145.5" cy="488.5" r="5.05"/><circle cx="151.9" cy="489.1" r="5.05"/><circle cx="100.6" cy="498.2" r="5.05"/><circle cx="106.0" cy="494.6" r="5.05"/><circle cx="114.6" cy="497.8" r="5.05"/><circle cx="122.9" cy="497.6" r="5.05"/><circle cx="130.0" cy="496.5" r="5.05"/><circle cx="136.5" cy="494.3" r="5.05"/><circle cx="138.9" cy="496.7" r="5.05"/><circle cx="145.8" cy="497.9" r="5.05"/><circle cx="105.5" cy="502.3" r="5.05"/><circle cx="113.2" cy="502.5" r="5.05"/><circle cx="116.7" cy="501.5" r="5.05"/><circle cx="126.2" cy="504.5" r="5.05"/><circle cx="129.1" cy="504.2" r="5.05"/><circle cx="144.2" cy="500.5" r="5.05"/><circle cx="150.5" cy="502.2" r="5.05"/><circle cx="102.1" cy="505.2" r="5.05"/><circle cx="110.6" cy="507.9" r="5.05"/><circle cx="113.9" cy="509.5" r="5.05"/><circle cx="121.4" cy="507.8" r="5.05"/><circle cx="128.6" cy="505.4" r="5.05"/><circle cx="143.1" cy="510.2" r="5.05"/><circle cx="145.7" cy="507.7" r="5.05"/><circle cx="102.7" cy="513.1" r="5.05"/><circle cx="113.0" cy="515.7" r="5.05"/><circle cx="117.6" cy="512.4" r="5.05"/><circle cx="122.5" cy="514.1" r="5.05"/><circle cx="133.1" cy="511.4" r="5.05"/><circle cx="138.8" cy="510.8" r="5.05"/><circle cx="142.0" cy="511.9" r="5.05"/><circle cx="151.3" cy="512.5" r="5.05"/><circle cx="100.7" cy="519.8" r="5.05"/><circle cx="105.8" cy="520.4" r="5.05"/><circle cx="112.4" cy="519.2" r="5.05"/><circle cx="119.6" cy="517.4" r="5.05"/><circle cx="127.7" cy="518.7" r="5.05"/><circle cx="133.3" cy="518.6" r="5.05"/><circle cx="140.7" cy="517.2" r="5.05"/><circle cx="145.3" cy="519.8" r="5.05"/><circle cx="105.5" cy="524.9" r="5.05"/><circle cx="113.2" cy="525.4" r="5.05"/><circle cx="119.7" cy="523.2" r="5.05"/><circle cx="125.6" cy="526.5" r="5.05"/><circle cx="133.0" cy="523.7" r="5.05"/><circle cx="136.2" cy="527.1" r="5.05"/><circle cx="142.2" cy="527.5" r="5.05"/><circle cx="152.4" cy="522.7" r="5.05"/><circle cx="100.0" cy="531.6" r="5.05"/><circle cx="106.7" cy="528.1" r="5.05"/><circle cx="116.4" cy="529.9" r="5.05"/><circle cx="122.6" cy="528.3" r="5.05"/><circle cx="127.0" cy="531.4" r="5.05"/><circle cx="131.3" cy="528.7" r="5.05"/><circle cx="141.5" cy="532.7" r="5.05"/><circle cx="104.8" cy="537.4" r="5.05"/><circle cx="111.3" cy="537.0" r="5.05"/><circle cx="116.0" cy="533.6" r="5.05"/><circle cx="122.0" cy="533.4" r="5.05"/><circle cx="131.0" cy="536.1" r="5.05"/><circle cx="137.6" cy="534.0" r="5.05"/><circle cx="142.0" cy="534.3" r="5.05"/><circle cx="152.2" cy="538.7" r="5.05"/><circle cx="103.9" cy="539.3" r="5.05"/><circle cx="105.5" cy="544.1" r="5.05"/><circle cx="114.3" cy="543.1" r="5.05"/><circle cx="120.0" cy="541.4" r="5.05"/><circle cx="141.6" cy="543.5" r="5.05"/><circle cx="145.2" cy="541.4" r="5.05"/><circle cx="106.1" cy="546.7" r="5.05"/><circle cx="109.5" cy="545.4" r="5.05"/><circle cx="126.5" cy="548.9" r="5.05"/><circle cx="131.9" cy="549.3" r="5.05"/><circle cx="138.0" cy="546.7" r="5.05"/><circle cx="144.3" cy="547.3" r="5.05"/><circle cx="100.1" cy="555.2" r="5.05"/><circle cx="109.4" cy="554.4" r="5.05"/><circle cx="123.2" cy="555.0" r="5.05"/><circle cx="128.6" cy="554.4" r="5.05"/><circle cx="135.5" cy="552.3" r="5.05"/><circle cx="102.0" cy="557.7" r="5.05"/><circle cx="112.0" cy="559.2" r="5.05"/><circle cx="116.2" cy="561.0" r="5.05"/><circle cx="125.2" cy="557.6" r="5.05"/><circle cx="131.6" cy="558.9" r="5.05"/><circle cx="137.4" cy="557.9" r="5.05"/><circle cx="104.2" cy="561.5" r="5.05"/><circle cx="108.6" cy="565.5" r="5.05"/><circle cx="113.1" cy="563.6" r="5.05"/><circle cx="118.5" cy="562.4" r="5.05"/><circle cx="126.8" cy="561.9" r="5.05"/><circle cx="132.6" cy="566.4" r="5.05"/><circle cx="140.8" cy="564.2" r="5.05"/><circle cx="107.5" cy="570.5" r="5.05"/><circle cx="113.0" cy="567.4" r="5.05"/><circle cx="118.3" cy="571.2" r="5.05"/><circle cx="121.7" cy="572.2" r="5.05"/><circle cx="128.8" cy="569.6" r="5.05"/><circle cx="135.4" cy="569.7" r="5.05"/><circle cx="144.4" cy="567.3" r="5.05"/><circle cx="101.6" cy="575.9" r="5.05"/><circle cx="107.2" cy="574.2" r="5.05"/><circle cx="115.4" cy="575.7" r="5.05"/><circle cx="119.8" cy="576.6" r="5.05"/><circle cx="126.4" cy="572.7" r="5.05"/><circle cx="132.6" cy="572.8" r="5.05"/><circle cx="138.6" cy="576.8" r="5.05"/><circle cx="146.4" cy="577.6" r="5.05"/><circle cx="106.1" cy="578.5" r="5.05"/><circle cx="114.0" cy="583.5" r="5.05"/><circle cx="115.4" cy="583.3" r="5.05"/><circle cx="133.4" cy="579.6" r="5.05"/><circle cx="137.4" cy="583.5" r="5.05"/><circle cx="145.0" cy="580.8" r="5.05"/><circle cx="102.1" cy="584.5" r="5.05"/><circle cx="108.7" cy="586.4" r="5.05"/><circle cx="112.8" cy="584.1" r="5.05"/><circle cx="133.8" cy="585.3" r="5.05"/><circle cx="141.0" cy="586.2" r="5.05"/><circle cx="148.6" cy="586.8" r="5.05"/><circle cx="107.5" cy="594.8" r="5.05"/><circle cx="112.6" cy="590.8" r="5.05"/><circle cx="115.6" cy="594.5" r="5.05"/><circle cx="125.8" cy="593.0" r="5.05"/><circle cx="130.0" cy="591.0" r="5.05"/><circle cx="138.3" cy="592.6" r="5.05"/><circle cx="144.3" cy="593.0" r="5.05"/><circle cx="100.1" cy="600.6" r="5.05"/><circle cx="110.3" cy="600.0" r="5.05"/><circle cx="111.9" cy="595.4" r="5.05"/><circle cx="119.7" cy="597.5" r="5.05"/><circle cx="128.2" cy="595.7" r="5.05"/><circle cx="134.2" cy="595.5" r="5.05"/><circle cx="138.2" cy="598.9" r="5.05"/><circle cx="147.3" cy="598.6" r="5.05"/><circle cx="104.0" cy="603.4" r="5.05"/><circle cx="109.6" cy="602.7" r="5.05"/><circle cx="119.1" cy="605.4" r="5.05"/><circle cx="121.9" cy="601.4" r="5.05"/><circle cx="132.5" cy="604.2" r="5.05"/><circle cx="138.8" cy="601.9" r="5.05"/><circle cx="143.3" cy="602.2" r="5.05"/><circle cx="102.4" cy="611.9" r="5.05"/><circle cx="115.9" cy="611.5" r="5.05"/><circle cx="120.6" cy="608.4" r="5.05"/><circle cx="125.2" cy="611.3" r="5.05"/><circle cx="131.6" cy="606.8" r="5.05"/><circle cx="140.9" cy="609.1" r="5.05"/><circle cx="148.0" cy="608.0" r="5.05"/><circle cx="115.4" cy="613.7" r="5.05"/><circle cx="125.5" cy="615.9" r="5.05"/><circle cx="129.5" cy="612.8" r="5.05"/><circle cx="136.5" cy="616.1" r="5.05"/><circle cx="143.0" cy="612.6" r="5.05"/><circle cx="103.8" cy="622.9" r="5.05"/><circle cx="110.3" cy="620.1" r="5.05"/><circle cx="129.9" cy="622.6" r="5.05"/><circle cx="132.6" cy="619.6" r="5.05"/><circle cx="139.7" cy="619.7" r="5.05"/><circle cx="146.4" cy="619.8" r="5.05"/><circle cx="103.0" cy="626.4" r="5.05"/><circle cx="112.9" cy="626.3" r="5.05"/><circle cx="132.9" cy="624.8" r="5.05"/><circle cx="134.6" cy="626.1" r="5.05"/><circle cx="103.2" cy="629.2" r="5.05"/><circle cx="108.3" cy="633.3" r="5.05"/><circle cx="112.2" cy="629.3" r="5.05"/><circle cx="132.0" cy="633.1" r="5.05"/><circle cx="145.4" cy="633.2" r="5.05"/><circle cx="104.9" cy="638.8" r="5.05"/><circle cx="110.7" cy="636.4" r="5.05"/><circle cx="120.4" cy="638.3" r="5.05"/><circle cx="132.0" cy="638.5" r="5.05"/><circle cx="139.6" cy="636.8" r="5.05"/><circle cx="103.4" cy="645.1" r="5.05"/><circle cx="110.6" cy="643.7" r="5.05"/><circle cx="114.6" cy="644.1" r="5.05"/><circle cx="122.7" cy="642.5" r="5.05"/><circle cx="127.1" cy="641.0" r="5.05"/><circle cx="135.4" cy="645.7" r="5.05"/><circle cx="139.8" cy="641.1" r="5.05"/><circle cx="103.6" cy="651.2" r="5.05"/><circle cx="108.8" cy="647.5" r="5.05"/><circle cx="115.6" cy="649.4" r="5.05"/><circle cx="125.8" cy="646.8" r="5.05"/><circle cx="128.3" cy="648.3" r="5.05"/><circle cx="137.7" cy="650.9" r="5.05"/><circle cx="141.2" cy="646.4" r="5.05"/><circle cx="123.0" cy="289.6" r="5.05"/><circle cx="110.8" cy="296.1" r="5.05"/><circle cx="132.2" cy="299.1" r="5.05"/><circle cx="113.6" cy="307.1" r="5.05"/><circle cx="119.9" cy="304.8" r="5.05"/><circle cx="137.8" cy="308.1" r="5.05"/><circle cx="103.0" cy="314.5" r="5.05"/><circle cx="125.8" cy="313.6" r="5.05"/><circle cx="129.1" cy="315.3" r="5.05"/><circle cx="138.6" cy="313.7" r="5.05"/><circle cx="111.0" cy="320.3" r="5.05"/><circle cx="134.5" cy="320.8" r="5.05"/><circle cx="109.3" cy="328.8" r="5.05"/><circle cx="118.1" cy="333.5" r="5.05"/><circle cx="130.4" cy="335.5" r="5.05"/><circle cx="137.9" cy="341.2" r="5.05"/><circle cx="105.8" cy="346.7" r="5.05"/><circle cx="128.9" cy="346.7" r="5.05"/><circle cx="133.4" cy="347.7" r="5.05"/><circle cx="142.3" cy="344.3" r="5.05"/><circle cx="125.6" cy="351.7" r="5.05"/><circle cx="140.5" cy="352.5" r="5.05"/><circle cx="106.9" cy="358.8" r="5.05"/><circle cx="110.6" cy="359.6" r="5.05"/><circle cx="122.6" cy="360.0" r="5.05"/><circle cx="142.1" cy="356.4" r="5.05"/><circle cx="117.0" cy="365.5" r="5.05"/><circle cx="145.5" cy="365.9" r="5.05"/><circle cx="103.8" cy="369.2" r="5.05"/><circle cx="112.1" cy="372.3" r="5.05"/><circle cx="121.9" cy="372.1" r="5.05"/><circle cx="102.9" cy="376.9" r="5.05"/><circle cx="108.0" cy="376.8" r="5.05"/><circle cx="123.5" cy="376.6" r="5.05"/><circle cx="130.0" cy="377.4" r="5.05"/><circle cx="137.5" cy="379.9" r="5.05"/><circle cx="146.4" cy="378.7" r="5.05"/><circle cx="135.1" cy="354.7" r="5.05"/><circle cx="96.5" cy="655.6" r="5.05"/><circle cx="115.6" cy="655.6" r="5.05"/><circle cx="129.6" cy="652.3" r="5.05"/><circle cx="123.0" cy="650.6" r="5.05"/><circle cx="144.5" cy="653.9" r="5.05"/><circle cx="100.7" cy="659.7" r="5.05"/><circle cx="131.3" cy="662.2" r="5.05"/><circle cx="109.0" cy="200.6" r="5.05"/><circle cx="110.6" cy="186.5" r="5.05"/><circle cx="109.0" cy="230.4" r="5.05"/><circle cx="117.2" cy="232.1" r="5.05"/><circle cx="119.7" cy="226.3" r="5.05"/><circle cx="112.3" cy="245.3" r="5.05"/><circle cx="137.1" cy="249.4" r="5.05"/><circle cx="145.4" cy="245.3" r="5.05"/><circle cx="128.0" cy="265.2" r="5.05"/><circle cx="134.6" cy="269.3" r="5.05"/><circle cx="112.3" cy="266.0" r="5.05"/><circle cx="147.8" cy="238.7" r="5.05"/></g>
<line x1="96.73" y1="767.50" x2="801.27" y2="67.50" stroke="#000" stroke-width="2.08" stroke-linecap="square"/>
</g>
<g stroke="#000" stroke-width="1.1"><line x1="96.73" y1="802.5" x2="96.73" y2="807.4" /><line x1="61.5" y1="767.50" x2="56.6" y2="767.50" /><line x1="237.64" y1="802.5" x2="237.64" y2="807.4" /><line x1="61.5" y1="627.50" x2="56.6" y2="627.50" /><line x1="378.54" y1="802.5" x2="378.54" y2="807.4" /><line x1="61.5" y1="487.50" x2="56.6" y2="487.50" /><line x1="519.45" y1="802.5" x2="519.45" y2="807.4" /><line x1="61.5" y1="347.50" x2="56.6" y2="347.50" /><line x1="660.36" y1="802.5" x2="660.36" y2="807.4" /><line x1="61.5" y1="207.50" x2="56.6" y2="207.50" /><line x1="801.27" y1="802.5" x2="801.27" y2="807.4" /><line x1="61.5" y1="67.50" x2="56.6" y2="67.50" /></g>
<g font-size="13.89px">
<text x="96.73" y="822.7" text-anchor="middle">0.0</text><text x="51.8" y="772.75" text-anchor="end">0.0</text>
<text x="237.64" y="822.7" text-anchor="middle">0.2</text><text x="51.8" y="632.75" text-anchor="end">0.2</text>
<text x="378.54" y="822.7" text-anchor="middle">0.4</text><text x="51.8" y="492.75" text-anchor="end">0.4</text>
<text x="519.45" y="822.7" text-anchor="middle">0.6</text><text x="51.8" y="352.75" text-anchor="end">0.6</text>
<text x="660.36" y="822.7" text-anchor="middle">0.8</text><text x="51.8" y="212.75" text-anchor="end">0.8</text>
<text x="801.27" y="822.7" text-anchor="middle">1.0</text><text x="51.8" y="72.75" text-anchor="end">1.0</text>
<text x="448.4" y="843.4" text-anchor="middle">attention to IO</text>
<text transform="translate(20.7 417.5) rotate(-90)" text-anchor="middle">attention to S1</text>
</g>
<text x="448.7" y="24.2" font-size="16.67px" text-anchor="middle">Attention of L10.H1 to IO and S1</text>
<rect x="61.5" y="32.5" width="775" height="770" fill="none" stroke="#000" stroke-width="1.1"/>
<rect x="68.5" y="39.5" width="152" height="67" rx="2.8" ry="2.8" fill="#fff" fill-opacity="0.8" stroke="#ccc" stroke-width="1.39"/>
<circle cx="88.4" cy="52.3" r="5.05" fill="#0000ff"/><circle cx="88.4" cy="72.95" r="5.05" fill="#008000"/><circle cx="88.4" cy="93.6" r="5.05" fill="#ff0000"/>
<g font-size="13.89px"><text x="112.6" y="55.8">clean</text><text x="112.6" y="76.5">control</text><text x="112.6" y="97.3">counterfactual</text></g>
</svg>
</body></html>
